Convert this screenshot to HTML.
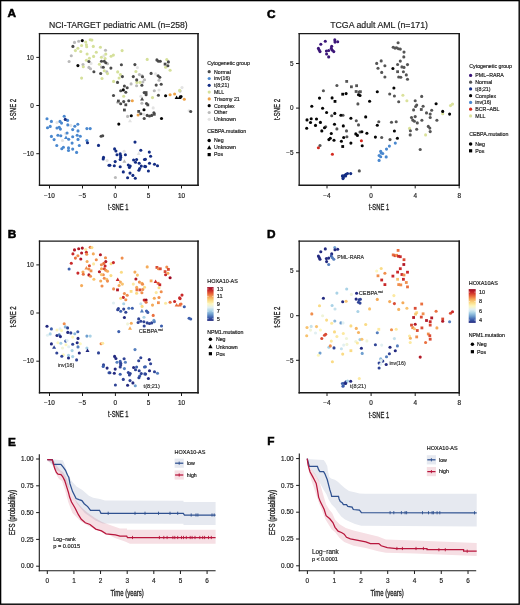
<!DOCTYPE html>
<html><head><meta charset="utf-8"><style>
html,body{margin:0;padding:0;background:#fff;}
body{width:520px;height:605px;overflow:hidden;}
svg{display:block;font-family:"Liberation Sans", sans-serif;}
</style></head><body>
<svg width="520" height="605" viewBox="0 0 520 605">
<rect x="0" y="0" width="520" height="605" fill="#fff"/>
<text x="7.6" y="17.00" font-size="11.8" text-anchor="start" font-weight="bold" fill="#000" stroke="#000" stroke-width="0.55">A</text>
<text x="267" y="17.80" font-size="11.8" text-anchor="start" font-weight="bold" fill="#000" stroke="#000" stroke-width="0.55">C</text>
<text x="7.8" y="238.00" font-size="11.8" text-anchor="start" font-weight="bold" fill="#000" stroke="#000" stroke-width="0.55">B</text>
<text x="267" y="237.70" font-size="11.8" text-anchor="start" font-weight="bold" fill="#000" stroke="#000" stroke-width="0.55">D</text>
<text x="8.1" y="445.80" font-size="11.8" text-anchor="start" font-weight="bold" fill="#000" stroke="#000" stroke-width="0.55">E</text>
<text x="267.2" y="445.20" font-size="11.8" text-anchor="start" font-weight="bold" fill="#000" stroke="#000" stroke-width="0.55">F</text>
<line x1="39.5" y1="32.95" x2="39.5" y2="185.95000000000002" stroke="#1a1a1a" stroke-width="1.3"/>
<line x1="38.85" y1="33.6" x2="198.8" y2="33.6" stroke="#1a1a1a" stroke-width="1.3"/>
<line x1="198" y1="32.95" x2="198" y2="186.0" stroke="#1a1a1a" stroke-width="1.6"/>
<line x1="38.85" y1="185.3" x2="198.8" y2="185.3" stroke="#1a1a1a" stroke-width="1.4"/>
<line x1="36.3" y1="57.4" x2="39.5" y2="57.4" stroke="#1a1a1a" stroke-width="1.0"/>
<text x="33.9" y="59.67" font-size="6.4" text-anchor="end" font-weight="normal" fill="#1e1e1e" stroke="#1e1e1e" stroke-width="0.18">10</text>
<line x1="36.3" y1="105.5" x2="39.5" y2="105.5" stroke="#1a1a1a" stroke-width="1.0"/>
<text x="33.9" y="107.77" font-size="6.4" text-anchor="end" font-weight="normal" fill="#1e1e1e" stroke="#1e1e1e" stroke-width="0.18">0</text>
<line x1="36.3" y1="153.7" x2="39.5" y2="153.7" stroke="#1a1a1a" stroke-width="1.0"/>
<text x="33.9" y="155.97" font-size="6.4" text-anchor="end" font-weight="normal" fill="#1e1e1e" stroke="#1e1e1e" stroke-width="0.18">−10</text>
<line x1="49.5" y1="185.3" x2="49.5" y2="188.5" stroke="#1a1a1a" stroke-width="1.0"/>
<text x="49.5" y="197.77" font-size="6.4" text-anchor="middle" font-weight="normal" fill="#1e1e1e" stroke="#1e1e1e" stroke-width="0.18">−10</text>
<line x1="82.5" y1="185.3" x2="82.5" y2="188.5" stroke="#1a1a1a" stroke-width="1.0"/>
<text x="82.5" y="197.77" font-size="6.4" text-anchor="middle" font-weight="normal" fill="#1e1e1e" stroke="#1e1e1e" stroke-width="0.18">−5</text>
<line x1="115.4" y1="185.3" x2="115.4" y2="188.5" stroke="#1a1a1a" stroke-width="1.0"/>
<text x="115.4" y="197.77" font-size="6.4" text-anchor="middle" font-weight="normal" fill="#1e1e1e" stroke="#1e1e1e" stroke-width="0.18">0</text>
<line x1="148.5" y1="185.3" x2="148.5" y2="188.5" stroke="#1a1a1a" stroke-width="1.0"/>
<text x="148.5" y="197.77" font-size="6.4" text-anchor="middle" font-weight="normal" fill="#1e1e1e" stroke="#1e1e1e" stroke-width="0.18">5</text>
<line x1="181.5" y1="185.3" x2="181.5" y2="188.5" stroke="#1a1a1a" stroke-width="1.0"/>
<text x="181.5" y="197.77" font-size="6.4" text-anchor="middle" font-weight="normal" fill="#1e1e1e" stroke="#1e1e1e" stroke-width="0.18">10</text>
<text x="118.3" y="209.90" font-size="8.3" text-anchor="middle" font-weight="normal" fill="#1e1e1e" textLength="20.4" lengthAdjust="spacingAndGlyphs" stroke="#1e1e1e" stroke-width="0.3">t-SNE 1</text>
<text transform="translate(16.1,109.3) rotate(-90)" x="0" y="0" font-size="8.3" text-anchor="middle" font-weight="normal" fill="#1e1e1e" textLength="21" lengthAdjust="spacingAndGlyphs" stroke="#1e1e1e" stroke-width="0.3">t-SNE 2</text>
<line x1="39.5" y1="240.45" x2="39.5" y2="393.45" stroke="#1a1a1a" stroke-width="1.3"/>
<line x1="38.85" y1="241.1" x2="198.8" y2="241.1" stroke="#1a1a1a" stroke-width="1.3"/>
<line x1="198" y1="240.45" x2="198" y2="393.5" stroke="#1a1a1a" stroke-width="1.6"/>
<line x1="38.85" y1="392.8" x2="198.8" y2="392.8" stroke="#1a1a1a" stroke-width="1.4"/>
<line x1="36.3" y1="264.9" x2="39.5" y2="264.9" stroke="#1a1a1a" stroke-width="1.0"/>
<text x="33.9" y="267.17" font-size="6.4" text-anchor="end" font-weight="normal" fill="#1e1e1e" stroke="#1e1e1e" stroke-width="0.18">10</text>
<line x1="36.3" y1="313.0" x2="39.5" y2="313.0" stroke="#1a1a1a" stroke-width="1.0"/>
<text x="33.9" y="315.27" font-size="6.4" text-anchor="end" font-weight="normal" fill="#1e1e1e" stroke="#1e1e1e" stroke-width="0.18">0</text>
<line x1="36.3" y1="361.2" x2="39.5" y2="361.2" stroke="#1a1a1a" stroke-width="1.0"/>
<text x="33.9" y="363.47" font-size="6.4" text-anchor="end" font-weight="normal" fill="#1e1e1e" stroke="#1e1e1e" stroke-width="0.18">−10</text>
<line x1="49.5" y1="392.8" x2="49.5" y2="396.0" stroke="#1a1a1a" stroke-width="1.0"/>
<text x="49.5" y="405.27" font-size="6.4" text-anchor="middle" font-weight="normal" fill="#1e1e1e" stroke="#1e1e1e" stroke-width="0.18">−10</text>
<line x1="82.5" y1="392.8" x2="82.5" y2="396.0" stroke="#1a1a1a" stroke-width="1.0"/>
<text x="82.5" y="405.27" font-size="6.4" text-anchor="middle" font-weight="normal" fill="#1e1e1e" stroke="#1e1e1e" stroke-width="0.18">−5</text>
<line x1="115.4" y1="392.8" x2="115.4" y2="396.0" stroke="#1a1a1a" stroke-width="1.0"/>
<text x="115.4" y="405.27" font-size="6.4" text-anchor="middle" font-weight="normal" fill="#1e1e1e" stroke="#1e1e1e" stroke-width="0.18">0</text>
<line x1="148.5" y1="392.8" x2="148.5" y2="396.0" stroke="#1a1a1a" stroke-width="1.0"/>
<text x="148.5" y="405.27" font-size="6.4" text-anchor="middle" font-weight="normal" fill="#1e1e1e" stroke="#1e1e1e" stroke-width="0.18">5</text>
<line x1="181.5" y1="392.8" x2="181.5" y2="396.0" stroke="#1a1a1a" stroke-width="1.0"/>
<text x="181.5" y="405.27" font-size="6.4" text-anchor="middle" font-weight="normal" fill="#1e1e1e" stroke="#1e1e1e" stroke-width="0.18">10</text>
<text x="118.3" y="417.40" font-size="8.3" text-anchor="middle" font-weight="normal" fill="#1e1e1e" textLength="20.4" lengthAdjust="spacingAndGlyphs" stroke="#1e1e1e" stroke-width="0.3">t-SNE 1</text>
<text transform="translate(16.1,316.8) rotate(-90)" x="0" y="0" font-size="8.3" text-anchor="middle" font-weight="normal" fill="#1e1e1e" textLength="21" lengthAdjust="spacingAndGlyphs" stroke="#1e1e1e" stroke-width="0.3">t-SNE 2</text>
<line x1="299.2" y1="32.95" x2="299.2" y2="185.85" stroke="#1a1a1a" stroke-width="1.3"/>
<line x1="298.55" y1="33.6" x2="460.0" y2="33.6" stroke="#1a1a1a" stroke-width="1.3"/>
<line x1="459.2" y1="32.95" x2="459.2" y2="185.89999999999998" stroke="#1a1a1a" stroke-width="1.6"/>
<line x1="298.55" y1="185.2" x2="460.0" y2="185.2" stroke="#1a1a1a" stroke-width="1.4"/>
<line x1="296.0" y1="63.5" x2="299.2" y2="63.5" stroke="#1a1a1a" stroke-width="1.0"/>
<text x="293.59999999999997" y="65.77" font-size="6.4" text-anchor="end" font-weight="normal" fill="#1e1e1e" stroke="#1e1e1e" stroke-width="0.18">5</text>
<line x1="296.0" y1="108.1" x2="299.2" y2="108.1" stroke="#1a1a1a" stroke-width="1.0"/>
<text x="293.59999999999997" y="110.37" font-size="6.4" text-anchor="end" font-weight="normal" fill="#1e1e1e" stroke="#1e1e1e" stroke-width="0.18">0</text>
<line x1="296.0" y1="152.7" x2="299.2" y2="152.7" stroke="#1a1a1a" stroke-width="1.0"/>
<text x="293.59999999999997" y="154.97" font-size="6.4" text-anchor="end" font-weight="normal" fill="#1e1e1e" stroke="#1e1e1e" stroke-width="0.18">−5</text>
<line x1="327" y1="185.2" x2="327" y2="188.39999999999998" stroke="#1a1a1a" stroke-width="1.0"/>
<text x="327" y="197.67" font-size="6.4" text-anchor="middle" font-weight="normal" fill="#1e1e1e" stroke="#1e1e1e" stroke-width="0.18">−4</text>
<line x1="371.1" y1="185.2" x2="371.1" y2="188.39999999999998" stroke="#1a1a1a" stroke-width="1.0"/>
<text x="371.1" y="197.67" font-size="6.4" text-anchor="middle" font-weight="normal" fill="#1e1e1e" stroke="#1e1e1e" stroke-width="0.18">0</text>
<line x1="415.2" y1="185.2" x2="415.2" y2="188.39999999999998" stroke="#1a1a1a" stroke-width="1.0"/>
<text x="415.2" y="197.67" font-size="6.4" text-anchor="middle" font-weight="normal" fill="#1e1e1e" stroke="#1e1e1e" stroke-width="0.18">4</text>
<line x1="459.2" y1="185.2" x2="459.2" y2="188.39999999999998" stroke="#1a1a1a" stroke-width="1.0"/>
<text x="459.2" y="197.67" font-size="6.4" text-anchor="middle" font-weight="normal" fill="#1e1e1e" stroke="#1e1e1e" stroke-width="0.18">8</text>
<text x="379" y="209.90" font-size="8.3" text-anchor="middle" font-weight="normal" fill="#1e1e1e" textLength="20.4" lengthAdjust="spacingAndGlyphs" stroke="#1e1e1e" stroke-width="0.3">t-SNE 1</text>
<text transform="translate(279.5,109.5) rotate(-90)" x="0" y="0" font-size="8.3" text-anchor="middle" font-weight="normal" fill="#1e1e1e" textLength="21" lengthAdjust="spacingAndGlyphs" stroke="#1e1e1e" stroke-width="0.3">t-SNE 2</text>
<line x1="299.2" y1="240.54999999999998" x2="299.2" y2="393.44999999999993" stroke="#1a1a1a" stroke-width="1.3"/>
<line x1="298.55" y1="241.2" x2="460.0" y2="241.2" stroke="#1a1a1a" stroke-width="1.3"/>
<line x1="459.2" y1="240.54999999999998" x2="459.2" y2="393.49999999999994" stroke="#1a1a1a" stroke-width="1.6"/>
<line x1="298.55" y1="392.79999999999995" x2="460.0" y2="392.79999999999995" stroke="#1a1a1a" stroke-width="1.4"/>
<line x1="296.0" y1="271.1" x2="299.2" y2="271.1" stroke="#1a1a1a" stroke-width="1.0"/>
<text x="293.59999999999997" y="273.37" font-size="6.4" text-anchor="end" font-weight="normal" fill="#1e1e1e" stroke="#1e1e1e" stroke-width="0.18">5</text>
<line x1="296.0" y1="315.7" x2="299.2" y2="315.7" stroke="#1a1a1a" stroke-width="1.0"/>
<text x="293.59999999999997" y="317.97" font-size="6.4" text-anchor="end" font-weight="normal" fill="#1e1e1e" stroke="#1e1e1e" stroke-width="0.18">0</text>
<line x1="296.0" y1="360.29999999999995" x2="299.2" y2="360.29999999999995" stroke="#1a1a1a" stroke-width="1.0"/>
<text x="293.59999999999997" y="362.57" font-size="6.4" text-anchor="end" font-weight="normal" fill="#1e1e1e" stroke="#1e1e1e" stroke-width="0.18">−5</text>
<line x1="327" y1="392.79999999999995" x2="327" y2="395.99999999999994" stroke="#1a1a1a" stroke-width="1.0"/>
<text x="327" y="405.27" font-size="6.4" text-anchor="middle" font-weight="normal" fill="#1e1e1e" stroke="#1e1e1e" stroke-width="0.18">−4</text>
<line x1="371.1" y1="392.79999999999995" x2="371.1" y2="395.99999999999994" stroke="#1a1a1a" stroke-width="1.0"/>
<text x="371.1" y="405.27" font-size="6.4" text-anchor="middle" font-weight="normal" fill="#1e1e1e" stroke="#1e1e1e" stroke-width="0.18">0</text>
<line x1="415.2" y1="392.79999999999995" x2="415.2" y2="395.99999999999994" stroke="#1a1a1a" stroke-width="1.0"/>
<text x="415.2" y="405.27" font-size="6.4" text-anchor="middle" font-weight="normal" fill="#1e1e1e" stroke="#1e1e1e" stroke-width="0.18">4</text>
<line x1="459.2" y1="392.79999999999995" x2="459.2" y2="395.99999999999994" stroke="#1a1a1a" stroke-width="1.0"/>
<text x="459.2" y="405.27" font-size="6.4" text-anchor="middle" font-weight="normal" fill="#1e1e1e" stroke="#1e1e1e" stroke-width="0.18">8</text>
<text x="379" y="417.50" font-size="8.3" text-anchor="middle" font-weight="normal" fill="#1e1e1e" textLength="20.4" lengthAdjust="spacingAndGlyphs" stroke="#1e1e1e" stroke-width="0.3">t-SNE 1</text>
<text transform="translate(279.5,317.1) rotate(-90)" x="0" y="0" font-size="8.3" text-anchor="middle" font-weight="normal" fill="#1e1e1e" textLength="21" lengthAdjust="spacingAndGlyphs" stroke="#1e1e1e" stroke-width="0.3">t-SNE 2</text>
<text x="48.9" y="27.60" font-size="8.5" text-anchor="start" font-weight="normal" fill="#1e1e1e" textLength="138.8" lengthAdjust="spacingAndGlyphs" stroke="#1e1e1e" stroke-width="0.18">NCI-TARGET pediatric AML (n=258)</text>
<text x="330.2" y="27.70" font-size="8.5" text-anchor="start" font-weight="normal" fill="#1e1e1e" textLength="97.8" lengthAdjust="spacingAndGlyphs" stroke="#1e1e1e" stroke-width="0.18">TCGA adult AML (n=171)</text>
<text x="207.2" y="64.76" font-size="5.25" text-anchor="start" font-weight="normal" fill="#1e1e1e" stroke="#1e1e1e" stroke-width="0.18">Cytogenetic group</text>
<circle cx="209.2" cy="71.7" r="1.6" fill="#4a4a4a"/>
<text x="214.0" y="73.56" font-size="5.25" text-anchor="start" font-weight="normal" fill="#1e1e1e" stroke="#1e1e1e" stroke-width="0.18">Normal</text>
<circle cx="209.2" cy="78.5" r="1.6" fill="#4a88cf"/>
<text x="214.0" y="80.36" font-size="5.25" text-anchor="start" font-weight="normal" fill="#1e1e1e" stroke="#1e1e1e" stroke-width="0.18">inv(16)</text>
<circle cx="209.2" cy="85.3" r="1.6" fill="#142d84"/>
<text x="214.0" y="87.16" font-size="5.25" text-anchor="start" font-weight="normal" fill="#1e1e1e" stroke="#1e1e1e" stroke-width="0.18">t(8;21)</text>
<circle cx="209.2" cy="92.1" r="1.6" fill="#d5e09a"/>
<text x="214.0" y="93.96" font-size="5.25" text-anchor="start" font-weight="normal" fill="#1e1e1e" stroke="#1e1e1e" stroke-width="0.18">MLL</text>
<circle cx="209.2" cy="98.9" r="1.6" fill="#eda247"/>
<text x="214.0" y="100.76" font-size="5.25" text-anchor="start" font-weight="normal" fill="#1e1e1e" stroke="#1e1e1e" stroke-width="0.18">Trisomy 21</text>
<circle cx="209.2" cy="105.7" r="1.6" fill="#050505"/>
<text x="214.0" y="107.56" font-size="5.25" text-anchor="start" font-weight="normal" fill="#1e1e1e" stroke="#1e1e1e" stroke-width="0.18">Complex</text>
<circle cx="209.2" cy="112.5" r="1.6" fill="#b9b9b9"/>
<text x="214.0" y="114.36" font-size="5.25" text-anchor="start" font-weight="normal" fill="#1e1e1e" stroke="#1e1e1e" stroke-width="0.18">Other</text>
<circle cx="209.2" cy="119.3" r="1.6" fill="#e3e3e3"/>
<text x="214.0" y="121.16" font-size="5.25" text-anchor="start" font-weight="normal" fill="#1e1e1e" stroke="#1e1e1e" stroke-width="0.18">Unknown</text>
<text x="207.2" y="133.26" font-size="5.25" text-anchor="start" font-weight="normal" fill="#1e1e1e" stroke="#1e1e1e" stroke-width="0.18">CEBPA.mutation</text>
<circle cx="209.2" cy="140.6" r="1.75" fill="#000"/>
<text x="214.0" y="142.46" font-size="5.25" text-anchor="start" font-weight="normal" fill="#1e1e1e" stroke="#1e1e1e" stroke-width="0.18">Neg</text>
<polygon points="209.2,145.2 207.0,149.2 211.4,149.2" fill="#000"/>
<text x="214.0" y="149.46" font-size="5.25" text-anchor="start" font-weight="normal" fill="#1e1e1e" stroke="#1e1e1e" stroke-width="0.18">Unknown</text>
<rect x="207.6" y="153.0" width="3.2" height="3.2" fill="#000"/>
<text x="214.0" y="156.46" font-size="5.25" text-anchor="start" font-weight="normal" fill="#1e1e1e" stroke="#1e1e1e" stroke-width="0.18">Pos</text>
<text x="469.3" y="68.16" font-size="5.25" text-anchor="start" font-weight="normal" fill="#1e1e1e" stroke="#1e1e1e" stroke-width="0.18">Cytogenetic group</text>
<circle cx="470.6" cy="75.4" r="1.6" fill="#3b1578"/>
<text x="475.3" y="77.26" font-size="5.25" text-anchor="start" font-weight="normal" fill="#1e1e1e" stroke="#1e1e1e" stroke-width="0.18">PML−RARA</text>
<circle cx="470.6" cy="82.2" r="1.6" fill="#555555"/>
<text x="475.3" y="84.01" font-size="5.25" text-anchor="start" font-weight="normal" fill="#1e1e1e" stroke="#1e1e1e" stroke-width="0.18">Normal</text>
<circle cx="470.6" cy="88.9" r="1.6" fill="#142d84"/>
<text x="475.3" y="90.76" font-size="5.25" text-anchor="start" font-weight="normal" fill="#1e1e1e" stroke="#1e1e1e" stroke-width="0.18">t(8;21)</text>
<circle cx="470.6" cy="95.7" r="1.6" fill="#050505"/>
<text x="475.3" y="97.51" font-size="5.25" text-anchor="start" font-weight="normal" fill="#1e1e1e" stroke="#1e1e1e" stroke-width="0.18">Complex</text>
<circle cx="470.6" cy="102.4" r="1.6" fill="#4a88cf"/>
<text x="475.3" y="104.26" font-size="5.25" text-anchor="start" font-weight="normal" fill="#1e1e1e" stroke="#1e1e1e" stroke-width="0.18">inv(16)</text>
<circle cx="470.6" cy="109.2" r="1.6" fill="#d42a20"/>
<text x="475.3" y="111.01" font-size="5.25" text-anchor="start" font-weight="normal" fill="#1e1e1e" stroke="#1e1e1e" stroke-width="0.18">BCR−ABL</text>
<circle cx="470.6" cy="115.9" r="1.6" fill="#dbe29c"/>
<text x="475.3" y="117.76" font-size="5.25" text-anchor="start" font-weight="normal" fill="#1e1e1e" stroke="#1e1e1e" stroke-width="0.18">MLL</text>
<text x="469.3" y="136.46" font-size="5.25" text-anchor="start" font-weight="normal" fill="#1e1e1e" stroke="#1e1e1e" stroke-width="0.18">CEBPA.mutation</text>
<circle cx="470.6" cy="144.1" r="1.75" fill="#000"/>
<text x="475.3" y="145.96" font-size="5.25" text-anchor="start" font-weight="normal" fill="#1e1e1e" stroke="#1e1e1e" stroke-width="0.18">Neg</text>
<rect x="469.0" y="149.2" width="3.2" height="3.2" fill="#000"/>
<text x="475.3" y="152.66" font-size="5.25" text-anchor="start" font-weight="normal" fill="#1e1e1e" stroke="#1e1e1e" stroke-width="0.18">Pos</text>
<text x="207.2" y="282.56" font-size="5.25" text-anchor="start" font-weight="normal" fill="#1e1e1e" textLength="30.7" lengthAdjust="spacingAndGlyphs" stroke="#1e1e1e" stroke-width="0.18">HOXA10-AS</text>
<defs><linearGradient id="gB" x1="0" y1="0" x2="0" y2="1"><stop offset="0.000" stop-color="#9c0a24"/><stop offset="0.100" stop-color="#c9292a"/><stop offset="0.200" stop-color="#e8663a"/><stop offset="0.300" stop-color="#f5ab5a"/><stop offset="0.400" stop-color="#fadb85"/><stop offset="0.500" stop-color="#fdf7bd"/><stop offset="0.600" stop-color="#e2f0f2"/><stop offset="0.700" stop-color="#a9d2e6"/><stop offset="0.800" stop-color="#6f9fcf"/><stop offset="0.900" stop-color="#3d5fad"/><stop offset="1.000" stop-color="#232a80"/></linearGradient></defs>
<rect x="207.2" y="287.1" width="6.4" height="33.8" fill="url(#gB)"/>
<line x1="207.2" y1="288.9" x2="208.6" y2="288.9" stroke="#fff" stroke-width="0.5"/>
<line x1="212.2" y1="288.9" x2="213.6" y2="288.9" stroke="#fff" stroke-width="0.5"/>
<text x="216.8" y="290.87" font-size="5.55" text-anchor="start" font-weight="normal" fill="#1e1e1e" stroke="#1e1e1e" stroke-width="0.18">13</text>
<line x1="207.2" y1="296.4" x2="208.6" y2="296.4" stroke="#fff" stroke-width="0.5"/>
<line x1="212.2" y1="296.4" x2="213.6" y2="296.4" stroke="#fff" stroke-width="0.5"/>
<text x="216.8" y="298.37" font-size="5.55" text-anchor="start" font-weight="normal" fill="#1e1e1e" stroke="#1e1e1e" stroke-width="0.18">11</text>
<line x1="207.2" y1="303.8" x2="208.6" y2="303.8" stroke="#fff" stroke-width="0.5"/>
<line x1="212.2" y1="303.8" x2="213.6" y2="303.8" stroke="#fff" stroke-width="0.5"/>
<text x="216.8" y="305.77" font-size="5.55" text-anchor="start" font-weight="normal" fill="#1e1e1e" stroke="#1e1e1e" stroke-width="0.18">9</text>
<line x1="207.2" y1="311.2" x2="208.6" y2="311.2" stroke="#fff" stroke-width="0.5"/>
<line x1="212.2" y1="311.2" x2="213.6" y2="311.2" stroke="#fff" stroke-width="0.5"/>
<text x="216.8" y="313.17" font-size="5.55" text-anchor="start" font-weight="normal" fill="#1e1e1e" stroke="#1e1e1e" stroke-width="0.18">7</text>
<line x1="207.2" y1="318.7" x2="208.6" y2="318.7" stroke="#fff" stroke-width="0.5"/>
<line x1="212.2" y1="318.7" x2="213.6" y2="318.7" stroke="#fff" stroke-width="0.5"/>
<text x="216.8" y="320.67" font-size="5.55" text-anchor="start" font-weight="normal" fill="#1e1e1e" stroke="#1e1e1e" stroke-width="0.18">5</text>
<text x="207.2" y="333.66" font-size="5.25" text-anchor="start" font-weight="normal" fill="#1e1e1e" stroke="#1e1e1e" stroke-width="0.18">NPM1.mutation</text>
<circle cx="210.4" cy="339.2" r="1.75" fill="#000"/>
<text x="215.9" y="341.06" font-size="5.25" text-anchor="start" font-weight="normal" fill="#1e1e1e" stroke="#1e1e1e" stroke-width="0.18">Neg</text>
<polygon points="210.4,344.3 208.2,348.3 212.6,348.3" fill="#000"/>
<text x="215.9" y="348.56" font-size="5.25" text-anchor="start" font-weight="normal" fill="#1e1e1e" stroke="#1e1e1e" stroke-width="0.18">Unknown</text>
<rect x="208.8" y="352.1" width="3.2" height="3.2" fill="#000"/>
<text x="215.9" y="355.56" font-size="5.25" text-anchor="start" font-weight="normal" fill="#1e1e1e" stroke="#1e1e1e" stroke-width="0.18">Pos</text>
<text x="468.7" y="285.06" font-size="5.25" text-anchor="start" font-weight="normal" fill="#1e1e1e" textLength="29.2" lengthAdjust="spacingAndGlyphs" stroke="#1e1e1e" stroke-width="0.18">HOXA10AS</text>
<defs><linearGradient id="gD" x1="0" y1="0" x2="0" y2="1"><stop offset="0.000" stop-color="#9c0a24"/><stop offset="0.100" stop-color="#c9292a"/><stop offset="0.200" stop-color="#e8663a"/><stop offset="0.300" stop-color="#f5ab5a"/><stop offset="0.400" stop-color="#fadb85"/><stop offset="0.500" stop-color="#fdf7bd"/><stop offset="0.600" stop-color="#e2f0f2"/><stop offset="0.700" stop-color="#a9d2e6"/><stop offset="0.800" stop-color="#6f9fcf"/><stop offset="0.900" stop-color="#3d5fad"/><stop offset="1.000" stop-color="#232a80"/></linearGradient></defs>
<rect x="468.7" y="289.1" width="7.0" height="33.8" fill="url(#gD)"/>
<line x1="468.7" y1="292.1" x2="470.1" y2="292.1" stroke="#fff" stroke-width="0.5"/>
<line x1="474.3" y1="292.1" x2="475.7" y2="292.1" stroke="#fff" stroke-width="0.5"/>
<text x="479.0" y="294.07" font-size="5.55" text-anchor="start" font-weight="normal" fill="#1e1e1e" stroke="#1e1e1e" stroke-width="0.18">10</text>
<line x1="468.7" y1="301.5" x2="470.1" y2="301.5" stroke="#fff" stroke-width="0.5"/>
<line x1="474.3" y1="301.5" x2="475.7" y2="301.5" stroke="#fff" stroke-width="0.5"/>
<text x="479.0" y="303.47" font-size="5.55" text-anchor="start" font-weight="normal" fill="#1e1e1e" stroke="#1e1e1e" stroke-width="0.18">8</text>
<line x1="468.7" y1="311.0" x2="470.1" y2="311.0" stroke="#fff" stroke-width="0.5"/>
<line x1="474.3" y1="311.0" x2="475.7" y2="311.0" stroke="#fff" stroke-width="0.5"/>
<text x="479.0" y="312.97" font-size="5.55" text-anchor="start" font-weight="normal" fill="#1e1e1e" stroke="#1e1e1e" stroke-width="0.18">6</text>
<line x1="468.7" y1="320.1" x2="470.1" y2="320.1" stroke="#fff" stroke-width="0.5"/>
<line x1="474.3" y1="320.1" x2="475.7" y2="320.1" stroke="#fff" stroke-width="0.5"/>
<text x="479.0" y="322.07" font-size="5.55" text-anchor="start" font-weight="normal" fill="#1e1e1e" stroke="#1e1e1e" stroke-width="0.18">4</text>
<text x="468.7" y="337.16" font-size="5.25" text-anchor="start" font-weight="normal" fill="#1e1e1e" stroke="#1e1e1e" stroke-width="0.18">NPM1.mutation</text>
<circle cx="472.4" cy="344.2" r="1.75" fill="#000"/>
<text x="477" y="346.06" font-size="5.25" text-anchor="start" font-weight="normal" fill="#1e1e1e" stroke="#1e1e1e" stroke-width="0.18">Neg</text>
<rect x="470.8" y="350.1" width="3.2" height="3.2" fill="#000"/>
<text x="477" y="353.56" font-size="5.25" text-anchor="start" font-weight="normal" fill="#1e1e1e" stroke="#1e1e1e" stroke-width="0.18">Pos</text>
<line x1="39.3" y1="454.2" x2="39.3" y2="571.2" stroke="#1a1a1a" stroke-width="1.1"/>
<line x1="38.8" y1="570.8" x2="215.6" y2="570.8" stroke="#1a1a1a" stroke-width="1.1"/>
<line x1="36.099999999999994" y1="459.0" x2="39.3" y2="459.0" stroke="#1a1a1a" stroke-width="1.0"/>
<text x="33.5" y="461.27" font-size="6.4" text-anchor="end" font-weight="normal" fill="#1e1e1e" stroke="#1e1e1e" stroke-width="0.18">1.00</text>
<line x1="36.099999999999994" y1="485.8" x2="39.3" y2="485.8" stroke="#1a1a1a" stroke-width="1.0"/>
<text x="33.5" y="488.07" font-size="6.4" text-anchor="end" font-weight="normal" fill="#1e1e1e" stroke="#1e1e1e" stroke-width="0.18">0.75</text>
<line x1="36.099999999999994" y1="512.6" x2="39.3" y2="512.6" stroke="#1a1a1a" stroke-width="1.0"/>
<text x="33.5" y="514.87" font-size="6.4" text-anchor="end" font-weight="normal" fill="#1e1e1e" stroke="#1e1e1e" stroke-width="0.18">0.50</text>
<line x1="36.099999999999994" y1="539.4" x2="39.3" y2="539.4" stroke="#1a1a1a" stroke-width="1.0"/>
<text x="33.5" y="541.67" font-size="6.4" text-anchor="end" font-weight="normal" fill="#1e1e1e" stroke="#1e1e1e" stroke-width="0.18">0.25</text>
<line x1="36.099999999999994" y1="566.2" x2="39.3" y2="566.2" stroke="#1a1a1a" stroke-width="1.0"/>
<text x="33.5" y="568.47" font-size="6.4" text-anchor="end" font-weight="normal" fill="#1e1e1e" stroke="#1e1e1e" stroke-width="0.18">0.00</text>
<line x1="47.3" y1="570.8" x2="47.3" y2="574" stroke="#1a1a1a" stroke-width="1.0"/>
<text x="47.3" y="583.47" font-size="6.4" text-anchor="middle" font-weight="normal" fill="#1e1e1e" stroke="#1e1e1e" stroke-width="0.18">0</text>
<line x1="73.92999999999999" y1="570.8" x2="73.92999999999999" y2="574" stroke="#1a1a1a" stroke-width="1.0"/>
<text x="73.92999999999999" y="583.47" font-size="6.4" text-anchor="middle" font-weight="normal" fill="#1e1e1e" stroke="#1e1e1e" stroke-width="0.18">1</text>
<line x1="100.56" y1="570.8" x2="100.56" y2="574" stroke="#1a1a1a" stroke-width="1.0"/>
<text x="100.56" y="583.47" font-size="6.4" text-anchor="middle" font-weight="normal" fill="#1e1e1e" stroke="#1e1e1e" stroke-width="0.18">2</text>
<line x1="127.19" y1="570.8" x2="127.19" y2="574" stroke="#1a1a1a" stroke-width="1.0"/>
<text x="127.19" y="583.47" font-size="6.4" text-anchor="middle" font-weight="normal" fill="#1e1e1e" stroke="#1e1e1e" stroke-width="0.18">3</text>
<line x1="153.82" y1="570.8" x2="153.82" y2="574" stroke="#1a1a1a" stroke-width="1.0"/>
<text x="153.82" y="583.47" font-size="6.4" text-anchor="middle" font-weight="normal" fill="#1e1e1e" stroke="#1e1e1e" stroke-width="0.18">4</text>
<line x1="180.45" y1="570.8" x2="180.45" y2="574" stroke="#1a1a1a" stroke-width="1.0"/>
<text x="180.45" y="583.47" font-size="6.4" text-anchor="middle" font-weight="normal" fill="#1e1e1e" stroke="#1e1e1e" stroke-width="0.18">5</text>
<line x1="207.07999999999998" y1="570.8" x2="207.07999999999998" y2="574" stroke="#1a1a1a" stroke-width="1.0"/>
<text x="207.07999999999998" y="583.47" font-size="6.4" text-anchor="middle" font-weight="normal" fill="#1e1e1e" stroke="#1e1e1e" stroke-width="0.18">6</text>
<text x="127.1" y="595.70" font-size="8.3" text-anchor="middle" font-weight="normal" fill="#1e1e1e" textLength="33.4" lengthAdjust="spacingAndGlyphs" stroke="#1e1e1e" stroke-width="0.3">Time (years)</text>
<text transform="translate(14.6,512.6) rotate(-90)" x="0" y="0" font-size="8.3" text-anchor="middle" font-weight="normal" fill="#1e1e1e" textLength="45.5" lengthAdjust="spacingAndGlyphs" stroke="#1e1e1e" stroke-width="0.3">EFS (probability)</text>
<line x1="299.3" y1="453.4" x2="299.3" y2="571.2" stroke="#1a1a1a" stroke-width="1.1"/>
<line x1="298.8" y1="570.8" x2="476.2" y2="570.8" stroke="#1a1a1a" stroke-width="1.1"/>
<line x1="296.1" y1="458.6" x2="299.3" y2="458.6" stroke="#1a1a1a" stroke-width="1.0"/>
<text x="293.5" y="460.87" font-size="6.4" text-anchor="end" font-weight="normal" fill="#1e1e1e" stroke="#1e1e1e" stroke-width="0.18">1.00</text>
<line x1="296.1" y1="485.40000000000003" x2="299.3" y2="485.40000000000003" stroke="#1a1a1a" stroke-width="1.0"/>
<text x="293.5" y="487.67" font-size="6.4" text-anchor="end" font-weight="normal" fill="#1e1e1e" stroke="#1e1e1e" stroke-width="0.18">0.75</text>
<line x1="296.1" y1="512.2" x2="299.3" y2="512.2" stroke="#1a1a1a" stroke-width="1.0"/>
<text x="293.5" y="514.47" font-size="6.4" text-anchor="end" font-weight="normal" fill="#1e1e1e" stroke="#1e1e1e" stroke-width="0.18">0.50</text>
<line x1="296.1" y1="539.0" x2="299.3" y2="539.0" stroke="#1a1a1a" stroke-width="1.0"/>
<text x="293.5" y="541.27" font-size="6.4" text-anchor="end" font-weight="normal" fill="#1e1e1e" stroke="#1e1e1e" stroke-width="0.18">0.25</text>
<line x1="296.1" y1="565.8000000000001" x2="299.3" y2="565.8000000000001" stroke="#1a1a1a" stroke-width="1.0"/>
<text x="293.5" y="568.07" font-size="6.4" text-anchor="end" font-weight="normal" fill="#1e1e1e" stroke="#1e1e1e" stroke-width="0.18">0.00</text>
<line x1="307.4" y1="570.8" x2="307.4" y2="574" stroke="#1a1a1a" stroke-width="1.0"/>
<text x="307.4" y="583.47" font-size="6.4" text-anchor="middle" font-weight="normal" fill="#1e1e1e" stroke="#1e1e1e" stroke-width="0.18">0</text>
<line x1="334.16999999999996" y1="570.8" x2="334.16999999999996" y2="574" stroke="#1a1a1a" stroke-width="1.0"/>
<text x="334.16999999999996" y="583.47" font-size="6.4" text-anchor="middle" font-weight="normal" fill="#1e1e1e" stroke="#1e1e1e" stroke-width="0.18">1</text>
<line x1="360.94" y1="570.8" x2="360.94" y2="574" stroke="#1a1a1a" stroke-width="1.0"/>
<text x="360.94" y="583.47" font-size="6.4" text-anchor="middle" font-weight="normal" fill="#1e1e1e" stroke="#1e1e1e" stroke-width="0.18">2</text>
<line x1="387.71" y1="570.8" x2="387.71" y2="574" stroke="#1a1a1a" stroke-width="1.0"/>
<text x="387.71" y="583.47" font-size="6.4" text-anchor="middle" font-weight="normal" fill="#1e1e1e" stroke="#1e1e1e" stroke-width="0.18">3</text>
<line x1="414.47999999999996" y1="570.8" x2="414.47999999999996" y2="574" stroke="#1a1a1a" stroke-width="1.0"/>
<text x="414.47999999999996" y="583.47" font-size="6.4" text-anchor="middle" font-weight="normal" fill="#1e1e1e" stroke="#1e1e1e" stroke-width="0.18">4</text>
<line x1="441.25" y1="570.8" x2="441.25" y2="574" stroke="#1a1a1a" stroke-width="1.0"/>
<text x="441.25" y="583.47" font-size="6.4" text-anchor="middle" font-weight="normal" fill="#1e1e1e" stroke="#1e1e1e" stroke-width="0.18">5</text>
<line x1="468.02" y1="570.8" x2="468.02" y2="574" stroke="#1a1a1a" stroke-width="1.0"/>
<text x="468.02" y="583.47" font-size="6.4" text-anchor="middle" font-weight="normal" fill="#1e1e1e" stroke="#1e1e1e" stroke-width="0.18">6</text>
<text x="387.1" y="595.70" font-size="8.3" text-anchor="middle" font-weight="normal" fill="#1e1e1e" textLength="33.4" lengthAdjust="spacingAndGlyphs" stroke="#1e1e1e" stroke-width="0.3">Time (years)</text>
<text transform="translate(274.6,512.6) rotate(-90)" x="0" y="0" font-size="8.3" text-anchor="middle" font-weight="normal" fill="#1e1e1e" textLength="45.5" lengthAdjust="spacingAndGlyphs" stroke="#1e1e1e" stroke-width="0.3">EFS (probability)</text>
<text x="174.6" y="453.56" font-size="5.25" text-anchor="start" font-weight="normal" fill="#1e1e1e" textLength="30.8" lengthAdjust="spacingAndGlyphs" stroke="#1e1e1e" stroke-width="0.18">HOXA10-AS</text>
<rect x="174.6" y="458.59999999999997" width="9.2" height="9.2" fill="#e6e9f0"/>
<line x1="175.1" y1="463.2" x2="183.29999999999998" y2="463.2" stroke="#2f5190" stroke-width="1.25"/>
<line x1="179.2" y1="461.59999999999997" x2="179.2" y2="464.8" stroke="#2f5190" stroke-width="0.9"/>
<text x="186.79999999999998" y="465.06" font-size="5.25" text-anchor="start" font-weight="normal" fill="#1e1e1e" stroke="#1e1e1e" stroke-width="0.18">low</text>
<rect x="174.6" y="470.4" width="9.2" height="9.2" fill="#f6dfe4"/>
<line x1="175.1" y1="475.0" x2="183.29999999999998" y2="475.0" stroke="#b8163c" stroke-width="1.25"/>
<line x1="179.2" y1="473.4" x2="179.2" y2="476.6" stroke="#b8163c" stroke-width="0.9"/>
<text x="186.79999999999998" y="476.86" font-size="5.25" text-anchor="start" font-weight="normal" fill="#1e1e1e" stroke="#1e1e1e" stroke-width="0.18">high</text>
<text x="426.8" y="450.16" font-size="5.25" text-anchor="start" font-weight="normal" fill="#1e1e1e" textLength="30.8" lengthAdjust="spacingAndGlyphs" stroke="#1e1e1e" stroke-width="0.18">HOXA10-AS</text>
<rect x="426.8" y="455.2" width="9.2" height="9.2" fill="#e6e9f0"/>
<line x1="427.3" y1="459.8" x2="435.5" y2="459.8" stroke="#2f5190" stroke-width="1.25"/>
<line x1="431.40000000000003" y1="458.2" x2="431.40000000000003" y2="461.40000000000003" stroke="#2f5190" stroke-width="0.9"/>
<text x="439.0" y="461.66" font-size="5.25" text-anchor="start" font-weight="normal" fill="#1e1e1e" stroke="#1e1e1e" stroke-width="0.18">low</text>
<rect x="426.8" y="467.0" width="9.2" height="9.2" fill="#f6dfe4"/>
<line x1="427.3" y1="471.6" x2="435.5" y2="471.6" stroke="#b8163c" stroke-width="1.25"/>
<line x1="431.40000000000003" y1="470.0" x2="431.40000000000003" y2="473.20000000000005" stroke="#b8163c" stroke-width="0.9"/>
<text x="439.0" y="473.46" font-size="5.25" text-anchor="start" font-weight="normal" fill="#1e1e1e" stroke="#1e1e1e" stroke-width="0.18">high</text>
<polygon points="47.3,459.0 53.9,459.5 62.9,460.2 65.1,465.4 67.3,472.9 71.1,480.3 72.4,482.0 76.5,486.6 82.3,489.9 88.9,495.7 93.1,497.8 100.0,499.0 105.0,500.5 183.5,500.8 183.5,502.0 215.6,502.0 215.6,525.0 183.5,525.0 183.5,523.7 102.7,523.4 95.5,520.5 84.8,513.1 76.5,503.1 70.7,490.7 66.0,484.0 63.0,478.0 60.0,472.0 56.0,470.0 53.0,466.0 47.3,460.0" fill="#e6e9f0" stroke="none"/>
<g style="mix-blend-mode:multiply">
<polygon points="47.3,459.0 52.0,459.0 54.0,461.0 57.0,466.0 60.0,470.0 63.0,472.0 66.0,477.0 68.0,483.0 70.0,490.0 73.0,496.0 77.0,502.0 82.0,508.0 88.0,513.0 95.0,518.0 102.0,522.0 110.0,525.0 120.0,528.5 127.0,528.5 127.0,529.8 215.6,529.8 215.6,543.8 130.0,543.8 125.0,541.5 115.0,538.0 105.0,533.0 96.4,529.6 88.9,526.3 80.7,521.3 72.4,513.1 68.3,502.3 65.0,490.0 62.0,481.0 59.0,479.0 56.0,474.0 54.0,468.0 52.0,463.0 47.3,461.0" fill="#f6dfe4" stroke="none"/>
</g>
<polyline points="47.3,459.5 52.3,459.5 53.5,464.3 60.9,464.3 63.4,467.4 65.5,470.3 67.6,475.2 68.8,477.3 70.0,483.9 72.6,491.6 76.1,498.5 79.0,499.7 81.9,500.6 84.2,503.7 87.7,506.6 90.5,510.3 99.5,510.3 101.0,513.3 183.3,513.3 184.5,515.0 215.6,515.0" fill="none" stroke="#2f5190" stroke-width="1.25" stroke-linejoin="miter"/>
<polyline points="47.3,459.6 52.3,459.8 53.5,464.1 54.7,468.6 56.4,472.4 58.0,474.2 61.0,474.6 62.6,476.5 64.7,480.6 66.3,485.6 68.4,492.2 69.6,497.1 71.5,502.0 74.9,507.7 78.4,514.7 81.3,519.3 85.3,522.8 90.0,524.5 95.7,529.1 101.5,530.9 106.1,533.8 115.4,534.9 120.0,536.2 126.7,536.2 127.5,537.5 215.6,537.5" fill="none" stroke="#b8163c" stroke-width="1.25" stroke-linejoin="miter"/>
<line x1="108.2" y1="511.69999999999993" x2="108.2" y2="514.9" stroke="#2f5190" stroke-width="0.9"/>
<line x1="135" y1="511.69999999999993" x2="135" y2="514.9" stroke="#2f5190" stroke-width="0.9"/>
<line x1="145" y1="511.69999999999993" x2="145" y2="514.9" stroke="#2f5190" stroke-width="0.9"/>
<line x1="158.5" y1="511.69999999999993" x2="158.5" y2="514.9" stroke="#2f5190" stroke-width="0.9"/>
<line x1="170" y1="511.69999999999993" x2="170" y2="514.9" stroke="#2f5190" stroke-width="0.9"/>
<line x1="177.7" y1="511.69999999999993" x2="177.7" y2="514.9" stroke="#2f5190" stroke-width="0.9"/>
<line x1="191.2" y1="513.4" x2="191.2" y2="516.6" stroke="#2f5190" stroke-width="0.9"/>
<line x1="196" y1="513.4" x2="196" y2="516.6" stroke="#2f5190" stroke-width="0.9"/>
<line x1="197.9" y1="513.4" x2="197.9" y2="516.6" stroke="#2f5190" stroke-width="0.9"/>
<line x1="212" y1="513.4" x2="212" y2="516.6" stroke="#2f5190" stroke-width="0.9"/>
<line x1="214.2" y1="513.4" x2="214.2" y2="516.6" stroke="#2f5190" stroke-width="0.9"/>
<line x1="132.5" y1="535.9" x2="132.5" y2="539.1" stroke="#b8163c" stroke-width="0.9"/>
<line x1="159.4" y1="535.9" x2="159.4" y2="539.1" stroke="#b8163c" stroke-width="0.9"/>
<line x1="163.8" y1="535.9" x2="163.8" y2="539.1" stroke="#b8163c" stroke-width="0.9"/>
<line x1="167.1" y1="535.9" x2="167.1" y2="539.1" stroke="#b8163c" stroke-width="0.9"/>
<line x1="172.9" y1="535.9" x2="172.9" y2="539.1" stroke="#b8163c" stroke-width="0.9"/>
<line x1="174.8" y1="535.9" x2="174.8" y2="539.1" stroke="#b8163c" stroke-width="0.9"/>
<line x1="177.7" y1="535.9" x2="177.7" y2="539.1" stroke="#b8163c" stroke-width="0.9"/>
<line x1="181.5" y1="535.9" x2="181.5" y2="539.1" stroke="#b8163c" stroke-width="0.9"/>
<line x1="183.5" y1="535.9" x2="183.5" y2="539.1" stroke="#b8163c" stroke-width="0.9"/>
<line x1="186.3" y1="535.9" x2="186.3" y2="539.1" stroke="#b8163c" stroke-width="0.9"/>
<line x1="190.2" y1="535.9" x2="190.2" y2="539.1" stroke="#b8163c" stroke-width="0.9"/>
<line x1="192.1" y1="535.9" x2="192.1" y2="539.1" stroke="#b8163c" stroke-width="0.9"/>
<line x1="195" y1="535.9" x2="195" y2="539.1" stroke="#b8163c" stroke-width="0.9"/>
<line x1="199.8" y1="535.9" x2="199.8" y2="539.1" stroke="#b8163c" stroke-width="0.9"/>
<line x1="202.7" y1="535.9" x2="202.7" y2="539.1" stroke="#b8163c" stroke-width="0.9"/>
<line x1="204.6" y1="535.9" x2="204.6" y2="539.1" stroke="#b8163c" stroke-width="0.9"/>
<line x1="208.5" y1="535.9" x2="208.5" y2="539.1" stroke="#b8163c" stroke-width="0.9"/>
<line x1="211.3" y1="535.9" x2="211.3" y2="539.1" stroke="#b8163c" stroke-width="0.9"/>
<polygon points="307.2,458.5 310.0,459.3 323.6,460.0 325.5,462.4 327.3,466.2 327.9,471.1 329.2,476.7 331.0,478.6 334.8,479.8 337.8,481.7 341.0,484.8 344.7,487.9 349.0,491.0 354.6,492.2 359.5,493.4 365.0,493.7 476.7,493.7 476.7,526.5 361.2,525.8 355.0,524.0 350.4,521.9 345.0,519.5 341.2,516.5 337.8,512.0 335.4,508.3 331.7,504.6 328.6,499.6 326.7,494.7 323.6,489.7 319.9,482.9 318.6,481.0 316.8,477.3 313.7,472.4 310.0,467.4 307.5,459.3" fill="#e6e9f0" stroke="none"/>
<g style="mix-blend-mode:multiply">
<polygon points="307.2,458.5 308.7,462.4 310.0,467.4 314.9,473.6 318.6,479.8 321.1,487.2 323.6,495.9 326.1,504.6 329.2,509.5 332.3,513.3 335.0,519.6 339.6,524.2 345.8,528.1 353.5,530.4 365.8,533.5 378.1,536.5 385.8,539.6 415.0,540.4 476.7,543.0 476.7,556.1 415.0,553.5 385.8,552.7 378.1,551.2 365.8,548.1 353.5,545.8 344.2,541.9 339.6,538.1 335.0,531.9 331.7,529.4 328.6,524.4 325.5,519.5 323.6,514.5 321.1,508.3 318.6,502.1 316.2,494.7 313.7,487.2 311.2,479.8 308.7,471.1 307.7,464.9 307.2,459.0" fill="#f6dfe4" stroke="none"/>
</g>
<polyline points="307.2,458.7 309.3,466.4 317.4,466.4 318.6,469.6 319.9,471.7 323.6,471.7 324.8,473.6 326.3,477.3 327.3,479.8 328.6,484.8 329.8,489.7 331.0,493.4 331.7,496.3 338.5,496.3 339.1,499.0 340.3,501.5 342.2,502.7 343.4,504.6 346.5,504.6 347.8,506.4 352.1,507.1 353.3,509.5 359.5,510.2 361.4,512.6 476.7,512.8" fill="none" stroke="#2f5190" stroke-width="1.25" stroke-linejoin="miter"/>
<polyline points="307.2,458.7 308.1,464.9 310.0,471.7 312.4,476.1 314.3,479.8 316.2,483.5 317.4,489.7 318.6,497.1 320.5,502.1 322.4,505.8 324.2,509.5 326.1,515.7 329.8,518.8 332.9,522.6 335.0,527.3 338.1,531.2 341.9,532.7 344.2,534.2 346.5,537.3 350.4,538.8 358.1,540.4 365.8,541.9 370.4,543.5 378.8,543.5 381.2,545.8 387.3,547.6 396.5,548.5 427.0,548.5 427.0,549.7 463.6,549.7 463.6,551.2 476.7,551.2" fill="none" stroke="#b8163c" stroke-width="1.25" stroke-linejoin="miter"/>
<line x1="390.1" y1="511.0497831743278" x2="390.1" y2="514.2497831743278" stroke="#2f5190" stroke-width="0.9"/>
<line x1="393.8" y1="511.05620121422373" x2="393.8" y2="514.2562012142238" stroke="#2f5190" stroke-width="0.9"/>
<line x1="401.4" y1="511.0693842150911" x2="401.4" y2="514.2693842150911" stroke="#2f5190" stroke-width="0.9"/>
<line x1="405.1" y1="511.0758022549869" x2="405.1" y2="514.275802254987" stroke="#2f5190" stroke-width="0.9"/>
<line x1="406.6" y1="511.0784041630528" x2="406.6" y2="514.2784041630529" stroke="#2f5190" stroke-width="0.9"/>
<line x1="422.5" y1="511.1059843885515" x2="422.5" y2="514.3059843885516" stroke="#2f5190" stroke-width="0.9"/>
<line x1="428.5" y1="511.11639202081517" x2="428.5" y2="514.3163920208152" stroke="#2f5190" stroke-width="0.9"/>
<line x1="432.1" y1="511.12263660017345" x2="432.1" y2="514.3226366001735" stroke="#2f5190" stroke-width="0.9"/>
<line x1="433.4" y1="511.1248915871639" x2="433.4" y2="514.324891587164" stroke="#2f5190" stroke-width="0.9"/>
<line x1="437.1" y1="511.13130962705975" x2="437.1" y2="514.3313096270598" stroke="#2f5190" stroke-width="0.9"/>
<line x1="439.8" y1="511.13599306157846" x2="439.8" y2="514.3359930615785" stroke="#2f5190" stroke-width="0.9"/>
<line x1="474.5" y1="511.1961838681699" x2="474.5" y2="514.3961838681699" stroke="#2f5190" stroke-width="0.9"/>
<line x1="396.9" y1="546.9" x2="396.9" y2="550.1" stroke="#b8163c" stroke-width="0.9"/>
<line x1="402.4" y1="546.9" x2="402.4" y2="550.1" stroke="#b8163c" stroke-width="0.9"/>
<line x1="416" y1="546.9" x2="416" y2="550.1" stroke="#b8163c" stroke-width="0.9"/>
<line x1="423.4" y1="546.9" x2="423.4" y2="550.1" stroke="#b8163c" stroke-width="0.9"/>
<line x1="438.9" y1="548.1" x2="438.9" y2="551.3000000000001" stroke="#b8163c" stroke-width="0.9"/>
<line x1="445.3" y1="548.1" x2="445.3" y2="551.3000000000001" stroke="#b8163c" stroke-width="0.9"/>
<line x1="467.2" y1="549.6" x2="467.2" y2="552.8000000000001" stroke="#b8163c" stroke-width="0.9"/>
<text x="53.2" y="540.80" font-size="5.4" text-anchor="start" font-weight="normal" fill="#1e1e1e" textLength="22.4" lengthAdjust="spacingAndGlyphs" stroke="#1e1e1e" stroke-width="0.18">Log−rank</text>
<text x="53.2" y="547.80" font-size="5.4" text-anchor="start" font-weight="normal" fill="#1e1e1e" textLength="26.9" lengthAdjust="spacingAndGlyphs" stroke="#1e1e1e" stroke-width="0.18">p = 0.0015</text>
<text x="311.9" y="554.40" font-size="6.6" text-anchor="start" font-weight="normal" fill="#1e1e1e" textLength="26.9" lengthAdjust="spacingAndGlyphs" stroke="#1e1e1e" stroke-width="0.18">Log−rank</text>
<text x="311.9" y="561.20" font-size="5.2" text-anchor="start" font-weight="normal" fill="#1e1e1e" textLength="25.8" lengthAdjust="spacingAndGlyphs" stroke="#1e1e1e" stroke-width="0.18">p &lt; 0.0001</text>
<circle cx="91.0" cy="63.4" r="1.55" fill="#e3e3e3"/>
<circle cx="103.8" cy="55.9" r="1.55" fill="#e3e3e3"/>
<circle cx="137.4" cy="67.6" r="1.55" fill="#e3e3e3"/>
<circle cx="155.6" cy="73.9" r="1.55" fill="#e3e3e3"/>
<circle cx="140.8" cy="96.3" r="1.55" fill="#e3e3e3"/>
<polygon points="130.0,118.7 128.0,122.3 132.0,122.3" fill="#e3e3e3"/>
<circle cx="159.0" cy="90.0" r="1.55" fill="#e3e3e3"/>
<circle cx="182.0" cy="87.6" r="1.55" fill="#e3e3e3"/>
<circle cx="153.2" cy="107.9" r="1.55" fill="#e3e3e3"/>
<circle cx="143.9" cy="114.3" r="1.55" fill="#e3e3e3"/>
<circle cx="189.1" cy="110.8" r="1.55" fill="#e3e3e3"/>
<circle cx="57.0" cy="122.5" r="1.55" fill="#e3e3e3"/>
<circle cx="70.8" cy="125.4" r="1.55" fill="#e3e3e3"/>
<circle cx="65.7" cy="133.6" r="1.55" fill="#e3e3e3"/>
<circle cx="62.5" cy="140.5" r="1.55" fill="#e3e3e3"/>
<circle cx="124.1" cy="151.3" r="1.55" fill="#e3e3e3"/>
<polygon points="138.7,151.3 136.7,154.9 140.7,154.9" fill="#e3e3e3"/>
<circle cx="107.1" cy="160.6" r="1.55" fill="#e3e3e3"/>
<circle cx="78.7" cy="41.3" r="1.55" fill="#b9b9b9"/>
<circle cx="74.5" cy="42.4" r="1.55" fill="#b9b9b9"/>
<circle cx="71.3" cy="55.7" r="1.55" fill="#b9b9b9"/>
<circle cx="69.1" cy="61.5" r="1.55" fill="#b9b9b9"/>
<circle cx="83.0" cy="64.6" r="1.55" fill="#b9b9b9"/>
<circle cx="88.9" cy="67.4" r="1.55" fill="#b9b9b9"/>
<circle cx="90.5" cy="68.7" r="1.55" fill="#b9b9b9"/>
<circle cx="105.5" cy="50.3" r="1.55" fill="#b9b9b9"/>
<circle cx="107.5" cy="63.8" r="1.55" fill="#b9b9b9"/>
<circle cx="101.4" cy="67.1" r="1.55" fill="#b9b9b9"/>
<circle cx="106.8" cy="71.9" r="1.55" fill="#b9b9b9"/>
<circle cx="139.4" cy="74.6" r="1.55" fill="#b9b9b9"/>
<circle cx="142.0" cy="75.8" r="1.55" fill="#b9b9b9"/>
<circle cx="144.5" cy="79.7" r="1.55" fill="#b9b9b9"/>
<circle cx="142.8" cy="82.0" r="1.55" fill="#b9b9b9"/>
<circle cx="159.0" cy="80.3" r="1.55" fill="#b9b9b9"/>
<circle cx="131.1" cy="83.9" r="1.55" fill="#b9b9b9"/>
<circle cx="136.6" cy="85.7" r="1.55" fill="#b9b9b9"/>
<circle cx="141.9" cy="103.2" r="1.55" fill="#b9b9b9"/>
<circle cx="117.7" cy="102.3" r="1.55" fill="#b9b9b9"/>
<circle cx="127.6" cy="116.4" r="1.55" fill="#b9b9b9"/>
<circle cx="154.3" cy="90.7" r="1.55" fill="#b9b9b9"/>
<circle cx="180.1" cy="91.1" r="1.55" fill="#b9b9b9"/>
<polygon points="124.4,159.2 122.4,162.8 126.4,162.8" fill="#b9b9b9"/>
<circle cx="115.4" cy="177.5" r="1.55" fill="#b9b9b9"/>
<circle cx="85.7" cy="42.0" r="1.55" fill="#d5e09a"/>
<circle cx="90.2" cy="39.8" r="1.55" fill="#d5e09a"/>
<circle cx="91.9" cy="40.1" r="1.55" fill="#d5e09a"/>
<circle cx="86.4" cy="44.7" r="1.55" fill="#d5e09a"/>
<circle cx="86.7" cy="46.7" r="1.55" fill="#d5e09a"/>
<circle cx="81.6" cy="45.5" r="1.55" fill="#d5e09a"/>
<circle cx="77.9" cy="48.3" r="1.55" fill="#d5e09a"/>
<circle cx="75.4" cy="50.6" r="1.55" fill="#d5e09a"/>
<circle cx="80.8" cy="51.5" r="1.55" fill="#d5e09a"/>
<circle cx="87.1" cy="54.0" r="1.55" fill="#d5e09a"/>
<circle cx="89.4" cy="58.3" r="1.55" fill="#d5e09a"/>
<circle cx="86.4" cy="60.3" r="1.55" fill="#d5e09a"/>
<circle cx="83.3" cy="66.8" r="1.55" fill="#d5e09a"/>
<circle cx="81.6" cy="78.1" r="1.55" fill="#d5e09a"/>
<circle cx="93.3" cy="46.4" r="1.55" fill="#d5e09a"/>
<circle cx="100.4" cy="47.3" r="1.55" fill="#d5e09a"/>
<circle cx="96.3" cy="52.3" r="1.55" fill="#d5e09a"/>
<circle cx="93.6" cy="56.4" r="1.55" fill="#d5e09a"/>
<circle cx="105.8" cy="54.1" r="1.55" fill="#d5e09a"/>
<circle cx="111.1" cy="56.2" r="1.55" fill="#d5e09a"/>
<circle cx="113.4" cy="55.1" r="1.55" fill="#d5e09a"/>
<circle cx="101.4" cy="57.2" r="1.55" fill="#d5e09a"/>
<circle cx="105.1" cy="58.5" r="1.55" fill="#d5e09a"/>
<circle cx="122.1" cy="50.6" r="1.55" fill="#d5e09a"/>
<circle cx="99.4" cy="64.3" r="1.55" fill="#d5e09a"/>
<circle cx="104.3" cy="70.7" r="1.55" fill="#d5e09a"/>
<circle cx="107.5" cy="73.6" r="1.55" fill="#d5e09a"/>
<circle cx="102.0" cy="78.5" r="1.55" fill="#d5e09a"/>
<circle cx="117.7" cy="71.9" r="1.55" fill="#d5e09a"/>
<circle cx="120.4" cy="74.6" r="1.55" fill="#d5e09a"/>
<circle cx="119.1" cy="78.0" r="1.55" fill="#d5e09a"/>
<circle cx="113.6" cy="81.4" r="1.55" fill="#d5e09a"/>
<circle cx="135.9" cy="71.5" r="1.55" fill="#d5e09a"/>
<circle cx="136.9" cy="82.4" r="1.55" fill="#d5e09a"/>
<circle cx="140.0" cy="82.4" r="1.55" fill="#d5e09a"/>
<circle cx="147.2" cy="59.4" r="1.55" fill="#d5e09a"/>
<circle cx="166.8" cy="59.6" r="1.55" fill="#d5e09a"/>
<circle cx="165.6" cy="67.2" r="1.55" fill="#d5e09a"/>
<circle cx="170.1" cy="70.2" r="1.55" fill="#d5e09a"/>
<circle cx="123.7" cy="96.3" r="1.55" fill="#d5e09a"/>
<circle cx="152.5" cy="97.6" r="1.55" fill="#d5e09a"/>
<circle cx="179.6" cy="90.4" r="1.55" fill="#d5e09a"/>
<circle cx="132.3" cy="100.7" r="1.55" fill="#eda247"/>
<circle cx="138.1" cy="115.0" r="1.55" fill="#eda247"/>
<circle cx="170.1" cy="94.8" r="1.55" fill="#eda247"/>
<circle cx="174.6" cy="94.0" r="1.55" fill="#eda247"/>
<circle cx="184.3" cy="99.3" r="1.55" fill="#eda247"/>
<circle cx="47.0" cy="118.8" r="1.55" fill="#4a88cf"/>
<circle cx="64.2" cy="116.2" r="1.55" fill="#4a88cf"/>
<circle cx="67.6" cy="120.4" r="1.55" fill="#4a88cf"/>
<circle cx="51.4" cy="121.4" r="1.55" fill="#4a88cf"/>
<circle cx="60.0" cy="121.4" r="1.55" fill="#4a88cf"/>
<circle cx="61.5" cy="123.1" r="1.55" fill="#4a88cf"/>
<circle cx="67.8" cy="124.9" r="1.55" fill="#4a88cf"/>
<circle cx="74.8" cy="126.2" r="1.55" fill="#4a88cf"/>
<circle cx="77.8" cy="124.3" r="1.55" fill="#4a88cf"/>
<circle cx="47.5" cy="127.7" r="1.55" fill="#4a88cf"/>
<circle cx="50.2" cy="126.4" r="1.55" fill="#4a88cf"/>
<circle cx="57.0" cy="128.0" r="1.55" fill="#4a88cf"/>
<circle cx="59.2" cy="127.3" r="1.55" fill="#4a88cf"/>
<circle cx="60.4" cy="129.1" r="1.55" fill="#4a88cf"/>
<circle cx="72.7" cy="129.6" r="1.55" fill="#4a88cf"/>
<circle cx="78.0" cy="130.9" r="1.55" fill="#4a88cf"/>
<circle cx="86.9" cy="128.6" r="1.55" fill="#4a88cf"/>
<circle cx="90.2" cy="128.6" r="1.55" fill="#4a88cf"/>
<circle cx="67.1" cy="133.0" r="1.55" fill="#4a88cf"/>
<circle cx="51.4" cy="136.4" r="1.55" fill="#4a88cf"/>
<circle cx="57.9" cy="135.2" r="1.55" fill="#4a88cf"/>
<circle cx="60.8" cy="135.7" r="1.55" fill="#4a88cf"/>
<polygon points="66.0,135.4 64.0,139.0 68.0,139.0" fill="#4a88cf"/>
<circle cx="68.7" cy="139.2" r="1.55" fill="#4a88cf"/>
<circle cx="72.7" cy="136.8" r="1.55" fill="#4a88cf"/>
<circle cx="77.2" cy="135.2" r="1.55" fill="#4a88cf"/>
<circle cx="80.3" cy="136.2" r="1.55" fill="#4a88cf"/>
<circle cx="54.1" cy="139.6" r="1.55" fill="#4a88cf"/>
<circle cx="78.0" cy="139.4" r="1.55" fill="#4a88cf"/>
<circle cx="72.1" cy="143.1" r="1.55" fill="#4a88cf"/>
<circle cx="56.8" cy="145.5" r="1.55" fill="#4a88cf"/>
<circle cx="79.3" cy="145.5" r="1.55" fill="#4a88cf"/>
<circle cx="63.4" cy="147.3" r="1.55" fill="#4a88cf"/>
<circle cx="61.8" cy="148.7" r="1.55" fill="#4a88cf"/>
<circle cx="68.5" cy="147.9" r="1.55" fill="#4a88cf"/>
<circle cx="68.5" cy="150.5" r="1.55" fill="#4a88cf"/>
<circle cx="72.7" cy="149.1" r="1.55" fill="#4a88cf"/>
<circle cx="76.6" cy="152.4" r="1.55" fill="#4a88cf"/>
<circle cx="86.9" cy="140.5" r="1.55" fill="#4a88cf"/>
<circle cx="72.9" cy="46.4" r="1.55" fill="#4a4a4a"/>
<circle cx="88.9" cy="61.5" r="1.55" fill="#4a4a4a"/>
<circle cx="101.5" cy="61.3" r="1.55" fill="#4a4a4a"/>
<circle cx="104.3" cy="61.3" r="1.55" fill="#4a4a4a"/>
<circle cx="105.8" cy="62.7" r="1.55" fill="#4a4a4a"/>
<circle cx="103.3" cy="67.3" r="1.55" fill="#4a4a4a"/>
<circle cx="110.9" cy="68.1" r="1.55" fill="#4a4a4a"/>
<circle cx="93.9" cy="71.7" r="1.55" fill="#4a4a4a"/>
<circle cx="100.7" cy="73.5" r="1.55" fill="#4a4a4a"/>
<circle cx="121.4" cy="64.8" r="1.55" fill="#4a4a4a"/>
<circle cx="122.4" cy="76.6" r="1.55" fill="#4a4a4a"/>
<circle cx="117.5" cy="82.4" r="1.55" fill="#4a4a4a"/>
<circle cx="134.9" cy="64.6" r="1.55" fill="#4a4a4a"/>
<circle cx="133.3" cy="76.6" r="1.55" fill="#4a4a4a"/>
<circle cx="142.5" cy="76.8" r="1.55" fill="#4a4a4a"/>
<circle cx="136.7" cy="79.9" r="1.55" fill="#4a4a4a"/>
<circle cx="156.9" cy="59.9" r="1.55" fill="#4a4a4a"/>
<circle cx="158.4" cy="61.3" r="1.55" fill="#4a4a4a"/>
<circle cx="160.3" cy="61.3" r="1.55" fill="#4a4a4a"/>
<circle cx="168.4" cy="61.9" r="1.55" fill="#4a4a4a"/>
<rect x="163.7" y="62.7" width="2.8" height="2.8" fill="#4a4a4a"/>
<circle cx="167.9" cy="65.8" r="1.55" fill="#4a4a4a"/>
<circle cx="151.1" cy="73.4" r="1.55" fill="#4a4a4a"/>
<circle cx="158.1" cy="75.8" r="1.55" fill="#4a4a4a"/>
<circle cx="159.8" cy="77.3" r="1.55" fill="#4a4a4a"/>
<circle cx="141.9" cy="85.2" r="1.55" fill="#4a4a4a"/>
<circle cx="124.4" cy="86.0" r="1.55" fill="#4a4a4a"/>
<circle cx="127.2" cy="87.8" r="1.55" fill="#4a4a4a"/>
<circle cx="120.7" cy="90.7" r="1.55" fill="#4a4a4a"/>
<circle cx="125.8" cy="92.3" r="1.55" fill="#4a4a4a"/>
<circle cx="113.5" cy="95.5" r="1.55" fill="#4a4a4a"/>
<polygon points="142.1,97.0 140.1,100.6 144.1,100.6" fill="#4a4a4a"/>
<circle cx="144.2" cy="92.6" r="1.55" fill="#4a4a4a"/>
<circle cx="128.8" cy="100.8" r="1.55" fill="#4a4a4a"/>
<rect x="117.0" y="99.6" width="2.8" height="2.8" fill="#4a4a4a"/>
<circle cx="120.7" cy="103.7" r="1.55" fill="#4a4a4a"/>
<circle cx="123.7" cy="101.6" r="1.55" fill="#4a4a4a"/>
<rect x="124.4" y="103.4" width="2.8" height="2.8" fill="#4a4a4a"/>
<rect x="123.0" y="108.6" width="2.8" height="2.8" fill="#4a4a4a"/>
<rect x="137.3" y="110.0" width="2.8" height="2.8" fill="#4a4a4a"/>
<circle cx="140.8" cy="113.7" r="1.55" fill="#4a4a4a"/>
<circle cx="144.2" cy="118.5" r="1.55" fill="#4a4a4a"/>
<circle cx="156.2" cy="85.1" r="1.55" fill="#4a4a4a"/>
<circle cx="161.2" cy="84.2" r="1.55" fill="#4a4a4a"/>
<rect x="144.7" y="91.2" width="2.8" height="2.8" fill="#4a4a4a"/>
<circle cx="146.1" cy="94.8" r="1.55" fill="#4a4a4a"/>
<circle cx="158.4" cy="95.2" r="1.55" fill="#4a4a4a"/>
<rect x="146.4" y="103.5" width="2.8" height="2.8" fill="#4a4a4a"/>
<circle cx="146.5" cy="103.5" r="1.55" fill="#4a4a4a"/>
<circle cx="153.9" cy="112.7" r="1.55" fill="#4a4a4a"/>
<circle cx="151.7" cy="115.4" r="1.55" fill="#4a4a4a"/>
<circle cx="149.5" cy="116.0" r="1.55" fill="#4a4a4a"/>
<circle cx="147.2" cy="115.4" r="1.55" fill="#4a4a4a"/>
<rect x="152.9" y="112.9" width="2.8" height="2.8" fill="#4a4a4a"/>
<circle cx="190.7" cy="111.5" r="1.55" fill="#4a4a4a"/>
<circle cx="101.1" cy="136.2" r="1.55" fill="#4a4a4a"/>
<circle cx="102.7" cy="135.7" r="1.55" fill="#4a4a4a"/>
<circle cx="65.3" cy="119.4" r="1.55" fill="#142d84"/>
<circle cx="87.5" cy="142.8" r="1.55" fill="#142d84"/>
<circle cx="98.5" cy="145.4" r="1.55" fill="#142d84"/>
<circle cx="135.0" cy="142.1" r="1.55" fill="#142d84"/>
<circle cx="114.6" cy="148.9" r="1.55" fill="#142d84"/>
<circle cx="115.9" cy="151.0" r="1.55" fill="#142d84"/>
<circle cx="140.8" cy="150.2" r="1.55" fill="#142d84"/>
<circle cx="117.0" cy="154.8" r="1.55" fill="#142d84"/>
<circle cx="120.2" cy="153.9" r="1.55" fill="#142d84"/>
<circle cx="120.7" cy="155.8" r="1.55" fill="#142d84"/>
<circle cx="120.7" cy="157.4" r="1.55" fill="#142d84"/>
<circle cx="125.4" cy="154.8" r="1.55" fill="#142d84"/>
<circle cx="103.5" cy="157.4" r="1.55" fill="#142d84"/>
<circle cx="103.2" cy="159.0" r="1.55" fill="#142d84"/>
<circle cx="120.2" cy="159.5" r="1.55" fill="#142d84"/>
<circle cx="115.2" cy="161.6" r="1.55" fill="#142d84"/>
<circle cx="133.6" cy="160.0" r="1.55" fill="#142d84"/>
<circle cx="136.6" cy="159.5" r="1.55" fill="#142d84"/>
<circle cx="135.5" cy="162.2" r="1.55" fill="#142d84"/>
<circle cx="139.2" cy="163.2" r="1.55" fill="#142d84"/>
<circle cx="144.5" cy="159.5" r="1.55" fill="#142d84"/>
<circle cx="109.0" cy="165.3" r="1.55" fill="#142d84"/>
<circle cx="109.9" cy="165.3" r="1.55" fill="#142d84"/>
<circle cx="114.3" cy="165.7" r="1.55" fill="#142d84"/>
<circle cx="120.2" cy="166.7" r="1.55" fill="#142d84"/>
<circle cx="128.3" cy="165.0" r="1.55" fill="#142d84"/>
<circle cx="130.2" cy="166.1" r="1.55" fill="#142d84"/>
<circle cx="129.4" cy="167.4" r="1.55" fill="#142d84"/>
<circle cx="141.3" cy="166.1" r="1.55" fill="#142d84"/>
<circle cx="139.7" cy="168.5" r="1.55" fill="#142d84"/>
<circle cx="138.9" cy="170.3" r="1.55" fill="#142d84"/>
<circle cx="144.8" cy="166.4" r="1.55" fill="#142d84"/>
<circle cx="123.3" cy="171.9" r="1.55" fill="#142d84"/>
<circle cx="130.0" cy="173.1" r="1.55" fill="#142d84"/>
<circle cx="132.9" cy="175.4" r="1.55" fill="#142d84"/>
<circle cx="135.3" cy="178.2" r="1.55" fill="#142d84"/>
<circle cx="127.6" cy="177.7" r="1.55" fill="#142d84"/>
<circle cx="149.3" cy="152.1" r="1.55" fill="#142d84"/>
<circle cx="150.6" cy="156.3" r="1.55" fill="#142d84"/>
<circle cx="145.4" cy="159.3" r="1.55" fill="#142d84"/>
<circle cx="149.5" cy="163.2" r="1.55" fill="#142d84"/>
<circle cx="145.6" cy="166.6" r="1.55" fill="#142d84"/>
<circle cx="154.5" cy="164.3" r="1.55" fill="#142d84"/>
<circle cx="157.5" cy="165.7" r="1.55" fill="#142d84"/>
<circle cx="148.4" cy="171.0" r="1.55" fill="#142d84"/>
<circle cx="82.3" cy="40.6" r="1.55" fill="#050505"/>
<circle cx="77.9" cy="65.6" r="1.55" fill="#050505"/>
<circle cx="123.3" cy="89.9" r="1.55" fill="#050505"/>
<circle cx="131.3" cy="115.7" r="1.55" fill="#050505"/>
<circle cx="144.0" cy="109.7" r="1.55" fill="#050505"/>
<circle cx="118.8" cy="124.1" r="1.55" fill="#050505"/>
<circle cx="165.6" cy="95.7" r="1.55" fill="#050505"/>
<polygon points="176.6,95.5 174.6,99.1 178.6,99.1" fill="#050505"/>
<polygon points="179.6,95.3 177.6,98.9 181.6,98.9" fill="#050505"/>
<circle cx="181.0" cy="96.6" r="1.55" fill="#050505"/>
<circle cx="161.5" cy="118.5" r="1.55" fill="#050505"/>
<circle cx="402.9" cy="95.2" r="1.55" fill="#dbe29c"/>
<circle cx="406.9" cy="100.7" r="1.55" fill="#dbe29c"/>
<circle cx="450.5" cy="105.6" r="1.55" fill="#dbe29c"/>
<circle cx="452.5" cy="104.1" r="1.55" fill="#dbe29c"/>
<circle cx="442.7" cy="113.7" r="1.55" fill="#dbe29c"/>
<circle cx="409.5" cy="128.4" r="1.55" fill="#dbe29c"/>
<circle cx="425.6" cy="134.9" r="1.55" fill="#dbe29c"/>
<circle cx="395.3" cy="143.1" r="1.55" fill="#4a88cf"/>
<circle cx="389.4" cy="146.1" r="1.55" fill="#4a88cf"/>
<circle cx="386.5" cy="149.1" r="1.55" fill="#4a88cf"/>
<circle cx="380.7" cy="151.3" r="1.55" fill="#4a88cf"/>
<circle cx="382.8" cy="153.5" r="1.55" fill="#4a88cf"/>
<circle cx="381.2" cy="153.0" r="1.55" fill="#4a88cf"/>
<circle cx="379.1" cy="155.5" r="1.55" fill="#4a88cf"/>
<circle cx="380.7" cy="156.7" r="1.55" fill="#4a88cf"/>
<circle cx="386.2" cy="156.9" r="1.55" fill="#4a88cf"/>
<circle cx="379.1" cy="160.4" r="1.55" fill="#4a88cf"/>
<rect x="345.3" y="80.0" width="2.8" height="2.8" fill="#555555"/>
<circle cx="398.1" cy="42.8" r="1.55" fill="#555555"/>
<circle cx="393.2" cy="47.3" r="1.55" fill="#555555"/>
<circle cx="395.0" cy="48.1" r="1.55" fill="#555555"/>
<circle cx="396.6" cy="47.7" r="1.55" fill="#555555"/>
<circle cx="398.5" cy="48.7" r="1.55" fill="#555555"/>
<circle cx="400.3" cy="49.1" r="1.55" fill="#555555"/>
<circle cx="404.0" cy="52.1" r="1.55" fill="#555555"/>
<circle cx="403.8" cy="56.9" r="1.55" fill="#555555"/>
<circle cx="381.2" cy="60.9" r="1.55" fill="#555555"/>
<circle cx="376.7" cy="63.4" r="1.55" fill="#555555"/>
<circle cx="384.9" cy="65.7" r="1.55" fill="#555555"/>
<circle cx="378.0" cy="68.2" r="1.55" fill="#555555"/>
<circle cx="381.7" cy="72.4" r="1.55" fill="#555555"/>
<circle cx="384.9" cy="77.0" r="1.55" fill="#555555"/>
<circle cx="400.3" cy="61.1" r="1.55" fill="#555555"/>
<circle cx="397.6" cy="64.5" r="1.55" fill="#555555"/>
<circle cx="401.9" cy="66.9" r="1.55" fill="#555555"/>
<circle cx="404.0" cy="67.4" r="1.55" fill="#555555"/>
<rect x="396.2" y="70.3" width="2.8" height="2.8" fill="#555555"/>
<circle cx="403.4" cy="71.7" r="1.55" fill="#555555"/>
<circle cx="398.7" cy="77.0" r="1.55" fill="#555555"/>
<circle cx="400.8" cy="77.3" r="1.55" fill="#555555"/>
<circle cx="407.5" cy="64.6" r="1.55" fill="#555555"/>
<circle cx="406.3" cy="74.9" r="1.55" fill="#555555"/>
<circle cx="407.5" cy="79.3" r="1.55" fill="#555555"/>
<circle cx="336.9" cy="85.5" r="1.55" fill="#555555"/>
<rect x="350.0" y="85.4" width="2.8" height="2.8" fill="#555555"/>
<rect x="355.2" y="84.3" width="2.8" height="2.8" fill="#555555"/>
<circle cx="323.4" cy="90.7" r="1.55" fill="#555555"/>
<circle cx="331.7" cy="115.7" r="1.55" fill="#555555"/>
<circle cx="343.0" cy="115.3" r="1.55" fill="#555555"/>
<circle cx="325.7" cy="126.7" r="1.55" fill="#555555"/>
<circle cx="336.9" cy="128.9" r="1.55" fill="#555555"/>
<circle cx="346.5" cy="130.9" r="1.55" fill="#555555"/>
<rect x="354.7" y="90.1" width="2.8" height="2.8" fill="#555555"/>
<rect x="357.6" y="90.7" width="2.8" height="2.8" fill="#555555"/>
<rect x="359.0" y="90.3" width="2.8" height="2.8" fill="#555555"/>
<circle cx="357.9" cy="103.9" r="1.55" fill="#555555"/>
<circle cx="389.7" cy="94.0" r="1.55" fill="#555555"/>
<circle cx="394.4" cy="96.0" r="1.55" fill="#555555"/>
<circle cx="398.7" cy="101.8" r="1.55" fill="#555555"/>
<circle cx="356.3" cy="120.8" r="1.55" fill="#555555"/>
<circle cx="358.5" cy="124.9" r="1.55" fill="#555555"/>
<circle cx="378.8" cy="121.7" r="1.55" fill="#555555"/>
<circle cx="391.5" cy="122.2" r="1.55" fill="#555555"/>
<circle cx="396.2" cy="121.7" r="1.55" fill="#555555"/>
<circle cx="360.0" cy="132.0" r="1.55" fill="#555555"/>
<circle cx="421.7" cy="96.4" r="1.55" fill="#555555"/>
<circle cx="415.2" cy="100.7" r="1.55" fill="#555555"/>
<circle cx="416.7" cy="105.1" r="1.55" fill="#555555"/>
<circle cx="415.6" cy="106.5" r="1.55" fill="#555555"/>
<circle cx="423.1" cy="106.2" r="1.55" fill="#555555"/>
<rect x="419.9" y="108.1" width="2.8" height="2.8" fill="#555555"/>
<circle cx="413.6" cy="109.9" r="1.55" fill="#555555"/>
<circle cx="431.7" cy="110.3" r="1.55" fill="#555555"/>
<circle cx="426.5" cy="112.9" r="1.55" fill="#555555"/>
<circle cx="430.2" cy="114.1" r="1.55" fill="#555555"/>
<circle cx="430.2" cy="117.5" r="1.55" fill="#555555"/>
<circle cx="415.2" cy="116.6" r="1.55" fill="#555555"/>
<circle cx="411.5" cy="117.5" r="1.55" fill="#555555"/>
<circle cx="412.7" cy="120.1" r="1.55" fill="#555555"/>
<circle cx="414.4" cy="121.2" r="1.55" fill="#555555"/>
<circle cx="417.3" cy="122.9" r="1.55" fill="#555555"/>
<circle cx="421.9" cy="120.3" r="1.55" fill="#555555"/>
<circle cx="436.9" cy="120.3" r="1.55" fill="#555555"/>
<circle cx="410.4" cy="130.7" r="1.55" fill="#555555"/>
<circle cx="416.7" cy="129.3" r="1.55" fill="#555555"/>
<circle cx="428.3" cy="126.4" r="1.55" fill="#555555"/>
<circle cx="429.8" cy="128.1" r="1.55" fill="#555555"/>
<circle cx="430.2" cy="131.6" r="1.55" fill="#555555"/>
<circle cx="346.9" cy="136.8" r="1.55" fill="#555555"/>
<circle cx="320.0" cy="145.5" r="1.55" fill="#555555"/>
<circle cx="381.7" cy="137.5" r="1.55" fill="#555555"/>
<circle cx="390.0" cy="139.6" r="1.55" fill="#555555"/>
<circle cx="359.3" cy="170.9" r="1.55" fill="#555555"/>
<circle cx="410.2" cy="134.9" r="1.55" fill="#555555"/>
<circle cx="420.2" cy="149.5" r="1.55" fill="#555555"/>
<circle cx="325.3" cy="41.3" r="1.55" fill="#3b1578"/>
<circle cx="334.8" cy="39.9" r="1.55" fill="#3b1578"/>
<circle cx="335.0" cy="42.1" r="1.55" fill="#3b1578"/>
<circle cx="337.7" cy="41.7" r="1.55" fill="#3b1578"/>
<circle cx="320.8" cy="44.2" r="1.55" fill="#3b1578"/>
<circle cx="318.4" cy="48.4" r="1.55" fill="#3b1578"/>
<circle cx="319.2" cy="50.0" r="1.55" fill="#3b1578"/>
<circle cx="320.0" cy="51.6" r="1.55" fill="#3b1578"/>
<circle cx="331.7" cy="46.3" r="1.55" fill="#3b1578"/>
<circle cx="331.3" cy="48.4" r="1.55" fill="#3b1578"/>
<circle cx="332.4" cy="50.2" r="1.55" fill="#3b1578"/>
<circle cx="333.8" cy="51.6" r="1.55" fill="#3b1578"/>
<circle cx="326.4" cy="51.0" r="1.55" fill="#3b1578"/>
<circle cx="328.7" cy="50.5" r="1.55" fill="#3b1578"/>
<circle cx="326.6" cy="54.0" r="1.55" fill="#3b1578"/>
<circle cx="328.7" cy="56.9" r="1.55" fill="#3b1578"/>
<circle cx="318.4" cy="147.7" r="1.55" fill="#d42a20"/>
<circle cx="332.4" cy="154.2" r="1.55" fill="#d42a20"/>
<circle cx="342.4" cy="175.9" r="1.55" fill="#142d84"/>
<circle cx="343.3" cy="177.5" r="1.55" fill="#142d84"/>
<circle cx="343.0" cy="178.6" r="1.55" fill="#142d84"/>
<circle cx="344.6" cy="175.4" r="1.55" fill="#142d84"/>
<circle cx="346.1" cy="174.3" r="1.55" fill="#142d84"/>
<circle cx="347.5" cy="173.5" r="1.55" fill="#142d84"/>
<circle cx="350.7" cy="173.6" r="1.55" fill="#142d84"/>
<circle cx="345.6" cy="175.9" r="1.55" fill="#142d84"/>
<circle cx="361.4" cy="140.7" r="1.55" fill="#d42a20"/>
<circle cx="392.9" cy="68.5" r="1.55" fill="#050505"/>
<rect x="341.3" y="92.8" width="2.8" height="2.8" fill="#050505"/>
<circle cx="346.1" cy="93.6" r="1.55" fill="#050505"/>
<circle cx="319.5" cy="98.1" r="1.55" fill="#050505"/>
<circle cx="332.1" cy="97.9" r="1.55" fill="#050505"/>
<rect x="333.6" y="100.0" width="2.8" height="2.8" fill="#050505"/>
<circle cx="311.8" cy="106.3" r="1.55" fill="#050505"/>
<circle cx="322.6" cy="108.2" r="1.55" fill="#050505"/>
<circle cx="326.6" cy="112.5" r="1.55" fill="#050505"/>
<circle cx="334.8" cy="113.4" r="1.55" fill="#050505"/>
<circle cx="340.9" cy="115.3" r="1.55" fill="#050505"/>
<circle cx="350.9" cy="118.3" r="1.55" fill="#050505"/>
<circle cx="307.0" cy="119.9" r="1.55" fill="#050505"/>
<circle cx="311.2" cy="118.8" r="1.55" fill="#050505"/>
<circle cx="316.5" cy="119.0" r="1.55" fill="#050505"/>
<circle cx="310.5" cy="122.5" r="1.55" fill="#050505"/>
<circle cx="320.4" cy="122.4" r="1.55" fill="#050505"/>
<circle cx="315.5" cy="125.4" r="1.55" fill="#050505"/>
<circle cx="306.7" cy="128.2" r="1.55" fill="#050505"/>
<circle cx="324.5" cy="127.7" r="1.55" fill="#050505"/>
<circle cx="334.5" cy="124.3" r="1.55" fill="#050505"/>
<circle cx="343.3" cy="125.9" r="1.55" fill="#050505"/>
<circle cx="321.8" cy="130.9" r="1.55" fill="#050505"/>
<circle cx="331.3" cy="133.5" r="1.55" fill="#050505"/>
<circle cx="360.0" cy="95.5" r="1.55" fill="#050505"/>
<circle cx="358.5" cy="94.7" r="1.55" fill="#050505"/>
<circle cx="377.3" cy="91.8" r="1.55" fill="#050505"/>
<circle cx="369.6" cy="101.3" r="1.55" fill="#050505"/>
<circle cx="393.9" cy="88.0" r="1.55" fill="#050505"/>
<circle cx="365.7" cy="116.9" r="1.55" fill="#050505"/>
<circle cx="377.3" cy="125.2" r="1.55" fill="#050505"/>
<circle cx="394.4" cy="131.0" r="1.55" fill="#050505"/>
<circle cx="355.8" cy="133.9" r="1.55" fill="#050505"/>
<circle cx="357.4" cy="135.4" r="1.55" fill="#050505"/>
<circle cx="361.9" cy="131.7" r="1.55" fill="#050505"/>
<circle cx="366.9" cy="133.3" r="1.55" fill="#050505"/>
<circle cx="436.1" cy="103.7" r="1.55" fill="#050505"/>
<circle cx="442.7" cy="111.4" r="1.55" fill="#050505"/>
<circle cx="449.6" cy="114.1" r="1.55" fill="#050505"/>
<circle cx="328.9" cy="139.6" r="1.55" fill="#050505"/>
<circle cx="330.3" cy="138.3" r="1.55" fill="#050505"/>
<circle cx="334.0" cy="140.3" r="1.55" fill="#050505"/>
<circle cx="341.4" cy="141.2" r="1.55" fill="#050505"/>
<circle cx="343.7" cy="137.5" r="1.55" fill="#050505"/>
<circle cx="350.9" cy="143.1" r="1.55" fill="#050505"/>
<rect x="341.3" y="145.1" width="2.8" height="2.8" fill="#050505"/>
<circle cx="375.4" cy="137.1" r="1.55" fill="#050505"/>
<circle cx="397.4" cy="138.3" r="1.55" fill="#050505"/>
<circle cx="362.2" cy="145.8" r="1.55" fill="#050505"/>
<circle cx="82.3" cy="248.1" r="1.55" fill="#b21a27"/>
<circle cx="78.7" cy="248.8" r="1.55" fill="#b21a27"/>
<circle cx="74.5" cy="249.9" r="1.55" fill="#b21a27"/>
<circle cx="72.9" cy="253.9" r="1.55" fill="#c9292a"/>
<circle cx="85.7" cy="249.5" r="1.55" fill="#fce9a1"/>
<circle cx="90.2" cy="247.3" r="1.55" fill="#ea7040"/>
<circle cx="91.9" cy="247.6" r="1.55" fill="#fadb85"/>
<circle cx="86.4" cy="252.2" r="1.55" fill="#c9292a"/>
<circle cx="86.7" cy="254.2" r="1.55" fill="#f08e4d"/>
<circle cx="81.6" cy="253.0" r="1.55" fill="#b21a27"/>
<circle cx="77.9" cy="255.8" r="1.55" fill="#f08e4d"/>
<circle cx="75.4" cy="258.1" r="1.55" fill="#ea7040"/>
<circle cx="80.8" cy="259.0" r="1.55" fill="#b21a27"/>
<circle cx="87.1" cy="261.5" r="1.55" fill="#f5ab5a"/>
<circle cx="71.3" cy="263.2" r="1.55" fill="#c9292a"/>
<circle cx="69.1" cy="269.0" r="1.55" fill="#3d5fad"/>
<circle cx="89.4" cy="265.8" r="1.55" fill="#da4c35"/>
<polygon points="86.4,265.9 84.4,269.5 88.4,269.5" fill="#f08e4d"/>
<circle cx="88.9" cy="269.0" r="1.55" fill="#f08e4d"/>
<rect x="89.6" y="269.5" width="2.8" height="2.8" fill="#f08e4d"/>
<circle cx="77.9" cy="273.1" r="1.55" fill="#c9292a"/>
<circle cx="83.0" cy="272.1" r="1.55" fill="#f5ab5a"/>
<circle cx="83.3" cy="274.3" r="1.55" fill="#ea7040"/>
<circle cx="88.9" cy="274.9" r="1.55" fill="#b21a27"/>
<circle cx="90.5" cy="276.2" r="1.55" fill="#f08e4d"/>
<circle cx="81.6" cy="285.6" r="1.55" fill="#f5ab5a"/>
<circle cx="93.3" cy="253.9" r="1.55" fill="#f5ab5a"/>
<circle cx="100.4" cy="254.8" r="1.55" fill="#b21a27"/>
<circle cx="96.3" cy="259.8" r="1.55" fill="#f08e4d"/>
<circle cx="93.6" cy="263.9" r="1.55" fill="#fce9a1"/>
<circle cx="105.5" cy="257.8" r="1.55" fill="#f08e4d"/>
<circle cx="105.8" cy="261.6" r="1.55" fill="#b21a27"/>
<circle cx="111.1" cy="263.7" r="1.55" fill="#fadb85"/>
<circle cx="113.4" cy="262.6" r="1.55" fill="#c9292a"/>
<circle cx="103.8" cy="263.4" r="1.55" fill="#ea7040"/>
<circle cx="101.4" cy="264.7" r="1.55" fill="#f08e4d"/>
<circle cx="105.1" cy="266.0" r="1.55" fill="#c9292a"/>
<circle cx="122.1" cy="258.1" r="1.55" fill="#f08e4d"/>
<circle cx="101.5" cy="268.8" r="1.55" fill="#f5ab5a"/>
<circle cx="104.3" cy="268.8" r="1.55" fill="#da4c35"/>
<circle cx="105.8" cy="270.2" r="1.55" fill="#f08e4d"/>
<circle cx="107.5" cy="271.3" r="1.55" fill="#f5ab5a"/>
<circle cx="99.4" cy="271.8" r="1.55" fill="#b21a27"/>
<circle cx="103.3" cy="274.8" r="1.55" fill="#f08e4d"/>
<circle cx="101.4" cy="274.6" r="1.55" fill="#f8c370"/>
<circle cx="110.9" cy="275.6" r="1.55" fill="#fadb85"/>
<circle cx="93.9" cy="279.2" r="1.55" fill="#f8c370"/>
<circle cx="100.7" cy="281.0" r="1.55" fill="#f5ab5a"/>
<circle cx="104.3" cy="278.2" r="1.55" fill="#f08e4d"/>
<circle cx="106.8" cy="279.4" r="1.55" fill="#f8c370"/>
<circle cx="107.5" cy="281.1" r="1.55" fill="#f08e4d"/>
<circle cx="102.0" cy="286.0" r="1.55" fill="#f08e4d"/>
<circle cx="121.4" cy="272.3" r="1.55" fill="#fadb85"/>
<polygon points="117.7,277.5 115.7,281.1 119.7,281.1" fill="#c9292a"/>
<circle cx="120.4" cy="282.1" r="1.55" fill="#f5ab5a"/>
<circle cx="122.4" cy="284.1" r="1.55" fill="#f8c370"/>
<circle cx="119.1" cy="285.5" r="1.55" fill="#f5ab5a"/>
<circle cx="113.6" cy="288.9" r="1.55" fill="#f08e4d"/>
<rect x="116.1" y="288.5" width="2.8" height="2.8" fill="#b21a27"/>
<circle cx="134.9" cy="272.1" r="1.55" fill="#f5ab5a"/>
<circle cx="137.4" cy="275.1" r="1.55" fill="#f8c370"/>
<circle cx="135.9" cy="279.0" r="1.55" fill="#b21a27"/>
<circle cx="133.3" cy="284.1" r="1.55" fill="#fce9a1"/>
<circle cx="139.4" cy="282.1" r="1.55" fill="#f08e4d"/>
<circle cx="142.0" cy="283.3" r="1.55" fill="#f5ab5a"/>
<circle cx="142.5" cy="284.3" r="1.55" fill="#f08e4d"/>
<circle cx="136.7" cy="287.4" r="1.55" fill="#f5ab5a"/>
<rect x="135.5" y="288.5" width="2.8" height="2.8" fill="#ea7040"/>
<rect x="138.6" y="288.5" width="2.8" height="2.8" fill="#da4c35"/>
<circle cx="144.5" cy="287.2" r="1.55" fill="#fadb85"/>
<circle cx="142.8" cy="289.5" r="1.55" fill="#f08e4d"/>
<circle cx="147.2" cy="266.9" r="1.55" fill="#f5ab5a"/>
<rect x="155.5" y="266.0" width="2.8" height="2.8" fill="#da4c35"/>
<circle cx="158.4" cy="268.8" r="1.55" fill="#f08e4d"/>
<rect x="158.9" y="267.4" width="2.8" height="2.8" fill="#da4c35"/>
<circle cx="166.8" cy="267.1" r="1.55" fill="#f08e4d"/>
<rect x="167.0" y="268.0" width="2.8" height="2.8" fill="#da4c35"/>
<rect x="163.7" y="270.2" width="2.8" height="2.8" fill="#da4c35"/>
<circle cx="167.9" cy="273.3" r="1.55" fill="#f5ab5a"/>
<circle cx="165.6" cy="274.7" r="1.55" fill="#c9292a"/>
<circle cx="170.1" cy="277.7" r="1.55" fill="#9c0a24"/>
<rect x="149.7" y="279.5" width="2.8" height="2.8" fill="#f5ab5a"/>
<polygon points="155.6,279.5 153.6,283.1 157.6,283.1" fill="#c9292a"/>
<rect x="156.7" y="281.9" width="2.8" height="2.8" fill="#ea7040"/>
<rect x="158.4" y="283.4" width="2.8" height="2.8" fill="#c9292a"/>
<circle cx="159.0" cy="287.8" r="1.55" fill="#fadb85"/>
<rect x="129.7" y="290.0" width="2.8" height="2.8" fill="#fadb85"/>
<circle cx="136.6" cy="293.2" r="1.55" fill="#fadb85"/>
<circle cx="141.9" cy="292.7" r="1.55" fill="#f08e4d"/>
<circle cx="124.4" cy="293.5" r="1.55" fill="#f08e4d"/>
<circle cx="127.2" cy="295.3" r="1.55" fill="#f08e4d"/>
<circle cx="123.3" cy="297.4" r="1.55" fill="#c9292a"/>
<circle cx="120.7" cy="298.2" r="1.55" fill="#fadb85"/>
<circle cx="125.8" cy="299.8" r="1.55" fill="#f08e4d"/>
<circle cx="113.5" cy="303.0" r="1.55" fill="#e2f0f2"/>
<circle cx="123.7" cy="303.8" r="1.55" fill="#a9d2e6"/>
<circle cx="140.8" cy="303.8" r="1.55" fill="#c6e1ec"/>
<circle cx="142.1" cy="306.4" r="1.55" fill="#fadb85"/>
<polygon points="141.9,308.8 139.9,312.4 143.9,312.4" fill="#567fbe"/>
<circle cx="144.2" cy="300.1" r="1.55" fill="#c9292a"/>
<circle cx="132.3" cy="308.2" r="1.55" fill="#3d5fad"/>
<circle cx="128.8" cy="308.3" r="1.55" fill="#567fbe"/>
<circle cx="118.4" cy="308.5" r="1.55" fill="#304496"/>
<circle cx="117.7" cy="309.8" r="1.55" fill="#304496"/>
<circle cx="120.7" cy="311.2" r="1.55" fill="#3d5fad"/>
<circle cx="123.7" cy="309.1" r="1.55" fill="#304496"/>
<circle cx="125.8" cy="312.3" r="1.55" fill="#304496"/>
<circle cx="124.4" cy="317.5" r="1.55" fill="#232a80"/>
<circle cx="131.3" cy="323.2" r="1.55" fill="#f5ab5a"/>
<circle cx="127.6" cy="323.9" r="1.55" fill="#f0f4d8"/>
<polygon points="130.0,326.2 128.0,329.8 132.0,329.8" fill="#f5ab5a"/>
<circle cx="138.1" cy="322.5" r="1.55" fill="#304496"/>
<circle cx="138.7" cy="318.9" r="1.55" fill="#304496"/>
<circle cx="140.8" cy="321.2" r="1.55" fill="#304496"/>
<circle cx="144.0" cy="317.2" r="1.55" fill="#a9d2e6"/>
<circle cx="144.2" cy="326.0" r="1.55" fill="#304496"/>
<circle cx="118.8" cy="331.6" r="1.55" fill="#3d5fad"/>
<circle cx="156.2" cy="292.6" r="1.55" fill="#fce9a1"/>
<circle cx="161.2" cy="291.7" r="1.55" fill="#f08e4d"/>
<circle cx="154.3" cy="298.2" r="1.55" fill="#f5ab5a"/>
<circle cx="159.0" cy="297.5" r="1.55" fill="#f08e4d"/>
<circle cx="146.1" cy="300.1" r="1.55" fill="#9c0a24"/>
<circle cx="146.1" cy="302.3" r="1.55" fill="#ea7040"/>
<circle cx="152.5" cy="305.1" r="1.55" fill="#f5ab5a"/>
<rect x="157.0" y="301.3" width="2.8" height="2.8" fill="#f08e4d"/>
<circle cx="165.6" cy="303.2" r="1.55" fill="#fce9a1"/>
<circle cx="170.1" cy="302.3" r="1.55" fill="#ea7040"/>
<circle cx="174.6" cy="301.5" r="1.55" fill="#c9292a"/>
<polygon points="176.6,303.0 174.6,306.6 178.6,306.6" fill="#ea7040"/>
<polygon points="179.6,302.8 177.6,306.4 181.6,306.4" fill="#ea7040"/>
<circle cx="181.0" cy="304.1" r="1.55" fill="#ea7040"/>
<circle cx="184.3" cy="306.8" r="1.55" fill="#3d5fad"/>
<circle cx="182.0" cy="295.1" r="1.55" fill="#c9292a"/>
<circle cx="180.1" cy="298.6" r="1.55" fill="#c9292a"/>
<circle cx="179.6" cy="297.9" r="1.55" fill="#c9292a"/>
<circle cx="147.8" cy="312.4" r="1.55" fill="#3d5fad"/>
<circle cx="146.5" cy="311.0" r="1.55" fill="#3d5fad"/>
<circle cx="153.2" cy="315.4" r="1.55" fill="#ea7040"/>
<circle cx="153.9" cy="320.2" r="1.55" fill="#6f9fcf"/>
<circle cx="151.7" cy="322.9" r="1.55" fill="#304496"/>
<circle cx="149.5" cy="323.5" r="1.55" fill="#304496"/>
<circle cx="147.2" cy="322.9" r="1.55" fill="#304496"/>
<circle cx="154.3" cy="321.8" r="1.55" fill="#567fbe"/>
<circle cx="143.9" cy="321.8" r="1.55" fill="#304496"/>
<circle cx="161.5" cy="326.0" r="1.55" fill="#3d5fad"/>
<circle cx="189.1" cy="318.3" r="1.55" fill="#3d5fad"/>
<circle cx="190.7" cy="319.0" r="1.55" fill="#3d5fad"/>
<circle cx="47.0" cy="326.3" r="1.55" fill="#232a80"/>
<circle cx="64.2" cy="323.7" r="1.55" fill="#f08e4d"/>
<circle cx="65.3" cy="326.9" r="1.55" fill="#8cb8da"/>
<circle cx="67.6" cy="327.9" r="1.55" fill="#304496"/>
<circle cx="51.4" cy="328.9" r="1.55" fill="#3d5fad"/>
<circle cx="57.0" cy="330.0" r="1.55" fill="#fdf7bd"/>
<circle cx="60.0" cy="328.9" r="1.55" fill="#e2f0f2"/>
<circle cx="61.5" cy="330.6" r="1.55" fill="#fdf7bd"/>
<circle cx="67.8" cy="332.4" r="1.55" fill="#232a80"/>
<circle cx="70.8" cy="332.9" r="1.55" fill="#304496"/>
<circle cx="74.8" cy="333.7" r="1.55" fill="#8cb8da"/>
<circle cx="77.8" cy="331.8" r="1.55" fill="#3d5fad"/>
<circle cx="47.5" cy="335.2" r="1.55" fill="#e2f0f2"/>
<circle cx="50.2" cy="333.9" r="1.55" fill="#a9d2e6"/>
<circle cx="57.0" cy="335.5" r="1.55" fill="#232a80"/>
<circle cx="59.2" cy="334.8" r="1.55" fill="#567fbe"/>
<circle cx="60.4" cy="336.6" r="1.55" fill="#232a80"/>
<circle cx="72.7" cy="337.1" r="1.55" fill="#fdf7bd"/>
<circle cx="78.0" cy="338.4" r="1.55" fill="#232a80"/>
<circle cx="86.9" cy="336.1" r="1.55" fill="#6f9fcf"/>
<circle cx="90.2" cy="336.1" r="1.55" fill="#a9d2e6"/>
<circle cx="65.7" cy="341.1" r="1.55" fill="#3d5fad"/>
<circle cx="67.1" cy="340.5" r="1.55" fill="#e2f0f2"/>
<circle cx="51.4" cy="343.9" r="1.55" fill="#232a80"/>
<circle cx="57.9" cy="342.7" r="1.55" fill="#fdf7bd"/>
<circle cx="60.8" cy="343.2" r="1.55" fill="#a9d2e6"/>
<circle cx="66.0" cy="344.8" r="1.55" fill="#fdf7bd"/>
<circle cx="68.7" cy="346.7" r="1.55" fill="#e2f0f2"/>
<circle cx="72.7" cy="344.3" r="1.55" fill="#304496"/>
<circle cx="77.2" cy="342.7" r="1.55" fill="#232a80"/>
<circle cx="80.3" cy="343.7" r="1.55" fill="#fdf7bd"/>
<polygon points="54.1,345.2 52.1,348.8 56.1,348.8" fill="#304496"/>
<circle cx="62.5" cy="348.0" r="1.55" fill="#f0f4d8"/>
<circle cx="78.0" cy="346.9" r="1.55" fill="#567fbe"/>
<circle cx="72.1" cy="350.6" r="1.55" fill="#a9d2e6"/>
<circle cx="56.8" cy="353.0" r="1.55" fill="#304496"/>
<circle cx="79.3" cy="353.0" r="1.55" fill="#232a80"/>
<circle cx="63.4" cy="354.8" r="1.55" fill="#fdf7bd"/>
<circle cx="61.8" cy="356.2" r="1.55" fill="#304496"/>
<circle cx="68.5" cy="355.4" r="1.55" fill="#a9d2e6"/>
<circle cx="68.5" cy="358.0" r="1.55" fill="#232a80"/>
<circle cx="72.7" cy="356.6" r="1.55" fill="#a9d2e6"/>
<circle cx="76.6" cy="359.9" r="1.55" fill="#304496"/>
<circle cx="86.9" cy="348.0" r="1.55" fill="#a9d2e6"/>
<polygon points="87.5,348.4 85.5,352.0 89.5,352.0" fill="#232a80"/>
<circle cx="101.1" cy="343.7" r="1.55" fill="#f08e4d"/>
<circle cx="102.7" cy="343.2" r="1.55" fill="#fce9a1"/>
<circle cx="98.5" cy="352.9" r="1.55" fill="#304496"/>
<circle cx="135.0" cy="349.6" r="1.55" fill="#567fbe"/>
<circle cx="114.6" cy="356.4" r="1.55" fill="#232a80"/>
<circle cx="115.9" cy="358.5" r="1.55" fill="#232a80"/>
<circle cx="124.1" cy="358.8" r="1.55" fill="#304496"/>
<circle cx="140.8" cy="357.7" r="1.55" fill="#304496"/>
<circle cx="138.7" cy="360.7" r="1.55" fill="#304496"/>
<circle cx="117.0" cy="362.3" r="1.55" fill="#567fbe"/>
<circle cx="120.2" cy="361.4" r="1.55" fill="#3d5fad"/>
<circle cx="120.7" cy="363.3" r="1.55" fill="#304496"/>
<circle cx="120.7" cy="364.9" r="1.55" fill="#304496"/>
<circle cx="125.4" cy="362.3" r="1.55" fill="#567fbe"/>
<circle cx="103.5" cy="364.9" r="1.55" fill="#304496"/>
<circle cx="103.2" cy="366.5" r="1.55" fill="#3d5fad"/>
<circle cx="107.1" cy="368.1" r="1.55" fill="#232a80"/>
<circle cx="120.2" cy="367.0" r="1.55" fill="#304496"/>
<circle cx="124.4" cy="368.6" r="1.55" fill="#567fbe"/>
<circle cx="115.2" cy="369.1" r="1.55" fill="#232a80"/>
<circle cx="133.6" cy="367.5" r="1.55" fill="#232a80"/>
<circle cx="136.6" cy="367.0" r="1.55" fill="#3d5fad"/>
<circle cx="135.5" cy="369.7" r="1.55" fill="#304496"/>
<circle cx="139.2" cy="370.7" r="1.55" fill="#304496"/>
<circle cx="144.5" cy="367.0" r="1.55" fill="#3d5fad"/>
<circle cx="109.0" cy="372.8" r="1.55" fill="#3d5fad"/>
<circle cx="109.9" cy="372.8" r="1.55" fill="#304496"/>
<circle cx="114.3" cy="373.2" r="1.55" fill="#232a80"/>
<circle cx="120.2" cy="374.2" r="1.55" fill="#3d5fad"/>
<circle cx="128.3" cy="372.5" r="1.55" fill="#304496"/>
<circle cx="130.2" cy="373.6" r="1.55" fill="#304496"/>
<circle cx="129.4" cy="374.9" r="1.55" fill="#304496"/>
<circle cx="141.3" cy="373.6" r="1.55" fill="#304496"/>
<circle cx="139.7" cy="376.0" r="1.55" fill="#3d5fad"/>
<circle cx="138.9" cy="377.8" r="1.55" fill="#304496"/>
<circle cx="144.8" cy="373.9" r="1.55" fill="#3d5fad"/>
<circle cx="123.3" cy="379.4" r="1.55" fill="#304496"/>
<circle cx="130.0" cy="380.6" r="1.55" fill="#304496"/>
<circle cx="132.9" cy="382.9" r="1.55" fill="#232a80"/>
<circle cx="135.3" cy="385.7" r="1.55" fill="#6f9fcf"/>
<circle cx="127.6" cy="385.2" r="1.55" fill="#232a80"/>
<circle cx="115.4" cy="385.0" r="1.55" fill="#304496"/>
<circle cx="149.3" cy="359.6" r="1.55" fill="#232a80"/>
<circle cx="150.6" cy="363.8" r="1.55" fill="#304496"/>
<circle cx="145.4" cy="366.8" r="1.55" fill="#3d5fad"/>
<circle cx="149.5" cy="370.7" r="1.55" fill="#232a80"/>
<circle cx="145.6" cy="374.1" r="1.55" fill="#304496"/>
<circle cx="154.5" cy="371.8" r="1.55" fill="#304496"/>
<circle cx="157.5" cy="373.2" r="1.55" fill="#567fbe"/>
<circle cx="148.4" cy="378.5" r="1.55" fill="#232a80"/>
<circle cx="325.3" cy="248.9" r="1.55" fill="#232a80"/>
<circle cx="334.8" cy="247.5" r="1.55" fill="#6f9fcf"/>
<circle cx="335.0" cy="249.7" r="1.55" fill="#232a80"/>
<circle cx="337.7" cy="249.3" r="1.55" fill="#232a80"/>
<circle cx="320.8" cy="251.8" r="1.55" fill="#232a80"/>
<circle cx="318.4" cy="256.0" r="1.55" fill="#232a80"/>
<circle cx="319.2" cy="257.6" r="1.55" fill="#232a80"/>
<circle cx="320.0" cy="259.2" r="1.55" fill="#232a80"/>
<circle cx="331.7" cy="253.9" r="1.55" fill="#232a80"/>
<circle cx="331.3" cy="256.0" r="1.55" fill="#3d5fad"/>
<circle cx="332.4" cy="257.8" r="1.55" fill="#567fbe"/>
<circle cx="333.8" cy="259.2" r="1.55" fill="#567fbe"/>
<circle cx="326.4" cy="258.6" r="1.55" fill="#232a80"/>
<circle cx="328.7" cy="258.1" r="1.55" fill="#232a80"/>
<circle cx="326.6" cy="261.6" r="1.55" fill="#232a80"/>
<circle cx="328.7" cy="264.5" r="1.55" fill="#567fbe"/>
<circle cx="346.7" cy="289.0" r="1.55" fill="#a9d2e6"/>
<rect x="396.7" y="249.0" width="2.8" height="2.8" fill="#ea7040"/>
<rect x="391.8" y="253.5" width="2.8" height="2.8" fill="#ea7040"/>
<rect x="393.6" y="254.3" width="2.8" height="2.8" fill="#da4c35"/>
<rect x="395.2" y="253.9" width="2.8" height="2.8" fill="#f08e4d"/>
<rect x="397.1" y="254.9" width="2.8" height="2.8" fill="#c9292a"/>
<rect x="398.9" y="255.3" width="2.8" height="2.8" fill="#c9292a"/>
<rect x="402.6" y="258.3" width="2.8" height="2.8" fill="#da4c35"/>
<rect x="402.4" y="263.1" width="2.8" height="2.8" fill="#b21a27"/>
<circle cx="381.2" cy="268.5" r="1.55" fill="#fadb85"/>
<circle cx="376.7" cy="271.0" r="1.55" fill="#fdf7bd"/>
<circle cx="384.9" cy="273.3" r="1.55" fill="#f08e4d"/>
<rect x="376.6" y="274.4" width="2.8" height="2.8" fill="#f08e4d"/>
<rect x="380.3" y="278.6" width="2.8" height="2.8" fill="#c9292a"/>
<rect x="383.5" y="283.2" width="2.8" height="2.8" fill="#c9292a"/>
<rect x="391.5" y="274.7" width="2.8" height="2.8" fill="#c9292a"/>
<rect x="398.9" y="267.3" width="2.8" height="2.8" fill="#c9292a"/>
<rect x="396.2" y="270.7" width="2.8" height="2.8" fill="#c9292a"/>
<rect x="400.5" y="273.1" width="2.8" height="2.8" fill="#c9292a"/>
<rect x="402.6" y="273.6" width="2.8" height="2.8" fill="#f08e4d"/>
<rect x="396.2" y="277.9" width="2.8" height="2.8" fill="#f8c370"/>
<rect x="402.0" y="277.9" width="2.8" height="2.8" fill="#c9292a"/>
<rect x="397.3" y="283.2" width="2.8" height="2.8" fill="#f08e4d"/>
<rect x="399.4" y="283.5" width="2.8" height="2.8" fill="#f08e4d"/>
<rect x="406.1" y="270.8" width="2.8" height="2.8" fill="#c9292a"/>
<rect x="404.9" y="281.1" width="2.8" height="2.8" fill="#f08e4d"/>
<rect x="406.1" y="285.5" width="2.8" height="2.8" fill="#ea7040"/>
<circle cx="336.9" cy="293.1" r="1.55" fill="#a9d2e6"/>
<circle cx="351.4" cy="294.4" r="1.55" fill="#f0f4d8"/>
<circle cx="356.6" cy="293.3" r="1.55" fill="#232a80"/>
<circle cx="323.4" cy="298.3" r="1.55" fill="#232a80"/>
<circle cx="342.7" cy="301.8" r="1.55" fill="#232a80"/>
<circle cx="346.1" cy="301.2" r="1.55" fill="#f8c370"/>
<circle cx="319.5" cy="305.7" r="1.55" fill="#fadb85"/>
<circle cx="332.1" cy="305.5" r="1.55" fill="#a9d2e6"/>
<circle cx="335.0" cy="309.0" r="1.55" fill="#c6e1ec"/>
<circle cx="311.8" cy="313.9" r="1.55" fill="#f08e4d"/>
<circle cx="322.6" cy="315.8" r="1.55" fill="#f0f4d8"/>
<circle cx="326.6" cy="320.1" r="1.55" fill="#fadb85"/>
<circle cx="334.8" cy="321.0" r="1.55" fill="#8cb8da"/>
<circle cx="331.7" cy="323.3" r="1.55" fill="#fce9a1"/>
<circle cx="340.9" cy="322.9" r="1.55" fill="#6f9fcf"/>
<circle cx="343.0" cy="322.9" r="1.55" fill="#e2f0f2"/>
<circle cx="350.9" cy="325.9" r="1.55" fill="#fadb85"/>
<circle cx="307.0" cy="327.5" r="1.55" fill="#f8c370"/>
<circle cx="311.2" cy="326.4" r="1.55" fill="#c6e1ec"/>
<circle cx="316.5" cy="326.6" r="1.55" fill="#f8c370"/>
<circle cx="310.5" cy="330.1" r="1.55" fill="#f0f4d8"/>
<circle cx="320.4" cy="330.0" r="1.55" fill="#fdf7bd"/>
<circle cx="315.5" cy="333.0" r="1.55" fill="#e2f0f2"/>
<circle cx="306.7" cy="335.8" r="1.55" fill="#f8c370"/>
<circle cx="324.5" cy="335.3" r="1.55" fill="#da4c35"/>
<circle cx="325.7" cy="334.3" r="1.55" fill="#da4c35"/>
<circle cx="334.5" cy="331.9" r="1.55" fill="#fadb85"/>
<circle cx="336.9" cy="336.5" r="1.55" fill="#fce9a1"/>
<circle cx="343.3" cy="333.5" r="1.55" fill="#fce9a1"/>
<circle cx="321.8" cy="338.5" r="1.55" fill="#da4c35"/>
<circle cx="331.3" cy="341.1" r="1.55" fill="#fce9a1"/>
<circle cx="346.5" cy="338.5" r="1.55" fill="#f0f4d8"/>
<circle cx="356.1" cy="299.1" r="1.55" fill="#232a80"/>
<circle cx="359.0" cy="299.7" r="1.55" fill="#304496"/>
<circle cx="360.4" cy="299.3" r="1.55" fill="#304496"/>
<circle cx="360.0" cy="303.1" r="1.55" fill="#304496"/>
<circle cx="358.5" cy="302.3" r="1.55" fill="#304496"/>
<circle cx="357.9" cy="311.5" r="1.55" fill="#a9d2e6"/>
<circle cx="377.3" cy="299.4" r="1.55" fill="#f5ab5a"/>
<circle cx="369.6" cy="308.9" r="1.55" fill="#f8c370"/>
<circle cx="393.9" cy="295.6" r="1.55" fill="#fce9a1"/>
<circle cx="389.7" cy="301.6" r="1.55" fill="#f5ab5a"/>
<circle cx="394.4" cy="303.6" r="1.55" fill="#da4c35"/>
<circle cx="402.9" cy="302.8" r="1.55" fill="#f5ab5a"/>
<circle cx="398.7" cy="309.4" r="1.55" fill="#f6b563"/>
<circle cx="365.7" cy="324.5" r="1.55" fill="#fadb85"/>
<circle cx="356.3" cy="328.4" r="1.55" fill="#f6b563"/>
<circle cx="358.5" cy="332.5" r="1.55" fill="#f6b563"/>
<rect x="377.4" y="327.9" width="2.8" height="2.8" fill="#fce9a1"/>
<circle cx="377.3" cy="332.8" r="1.55" fill="#567fbe"/>
<circle cx="391.5" cy="329.8" r="1.55" fill="#f08e4d"/>
<circle cx="396.2" cy="329.3" r="1.55" fill="#fce9a1"/>
<circle cx="394.4" cy="338.6" r="1.55" fill="#c6e1ec"/>
<circle cx="355.8" cy="341.5" r="1.55" fill="#f0f4d8"/>
<circle cx="357.4" cy="343.0" r="1.55" fill="#fce9a1"/>
<circle cx="360.0" cy="339.6" r="1.55" fill="#a9d2e6"/>
<circle cx="361.9" cy="339.3" r="1.55" fill="#f8c370"/>
<circle cx="366.9" cy="340.9" r="1.55" fill="#f0f4d8"/>
<circle cx="406.9" cy="308.3" r="1.55" fill="#f8c370"/>
<rect x="420.3" y="302.6" width="2.8" height="2.8" fill="#ea7040"/>
<rect x="413.8" y="306.9" width="2.8" height="2.8" fill="#da4c35"/>
<rect x="415.3" y="311.3" width="2.8" height="2.8" fill="#fadb85"/>
<rect x="414.2" y="312.7" width="2.8" height="2.8" fill="#f8c370"/>
<rect x="421.7" y="312.4" width="2.8" height="2.8" fill="#f08e4d"/>
<rect x="419.9" y="315.7" width="2.8" height="2.8" fill="#da4c35"/>
<rect x="412.2" y="316.1" width="2.8" height="2.8" fill="#b21a27"/>
<rect x="430.3" y="316.5" width="2.8" height="2.8" fill="#b21a27"/>
<rect x="425.1" y="319.1" width="2.8" height="2.8" fill="#b21a27"/>
<rect x="428.8" y="320.3" width="2.8" height="2.8" fill="#c9292a"/>
<rect x="428.8" y="323.7" width="2.8" height="2.8" fill="#da4c35"/>
<circle cx="436.1" cy="311.3" r="1.55" fill="#ea7040"/>
<circle cx="450.5" cy="313.2" r="1.55" fill="#da4c35"/>
<circle cx="452.5" cy="311.7" r="1.55" fill="#c9292a"/>
<rect x="441.3" y="317.6" width="2.8" height="2.8" fill="#da4c35"/>
<circle cx="442.7" cy="321.3" r="1.55" fill="#b21a27"/>
<circle cx="449.6" cy="321.7" r="1.55" fill="#567fbe"/>
<circle cx="415.2" cy="324.2" r="1.55" fill="#b21a27"/>
<rect x="410.1" y="323.7" width="2.8" height="2.8" fill="#da4c35"/>
<rect x="411.3" y="326.3" width="2.8" height="2.8" fill="#f08e4d"/>
<circle cx="414.4" cy="328.8" r="1.55" fill="#f8c370"/>
<rect x="415.9" y="329.1" width="2.8" height="2.8" fill="#da4c35"/>
<rect x="420.5" y="326.5" width="2.8" height="2.8" fill="#da4c35"/>
<circle cx="436.9" cy="327.9" r="1.55" fill="#f5ab5a"/>
<circle cx="409.5" cy="336.0" r="1.55" fill="#fce9a1"/>
<circle cx="410.4" cy="338.3" r="1.55" fill="#f6b563"/>
<rect x="415.3" y="335.5" width="2.8" height="2.8" fill="#f08e4d"/>
<rect x="426.9" y="332.6" width="2.8" height="2.8" fill="#f08e4d"/>
<rect x="428.4" y="334.3" width="2.8" height="2.8" fill="#da4c35"/>
<rect x="428.8" y="337.8" width="2.8" height="2.8" fill="#da4c35"/>
<circle cx="328.9" cy="347.2" r="1.55" fill="#a9d2e6"/>
<circle cx="330.3" cy="345.9" r="1.55" fill="#f08e4d"/>
<circle cx="334.0" cy="347.9" r="1.55" fill="#304496"/>
<circle cx="341.4" cy="348.8" r="1.55" fill="#c6e1ec"/>
<circle cx="343.7" cy="345.1" r="1.55" fill="#e2f0f2"/>
<circle cx="346.9" cy="344.4" r="1.55" fill="#f0f4d8"/>
<rect x="349.5" y="349.3" width="2.8" height="2.8" fill="#fadb85"/>
<circle cx="342.7" cy="354.1" r="1.55" fill="#fadb85"/>
<circle cx="320.0" cy="353.1" r="1.55" fill="#6f9fcf"/>
<circle cx="318.4" cy="355.3" r="1.55" fill="#fdf7bd"/>
<circle cx="332.4" cy="361.8" r="1.55" fill="#fadb85"/>
<circle cx="342.4" cy="383.5" r="1.55" fill="#3d5fad"/>
<circle cx="343.3" cy="385.1" r="1.55" fill="#567fbe"/>
<circle cx="343.0" cy="386.2" r="1.55" fill="#3d5fad"/>
<circle cx="344.6" cy="383.0" r="1.55" fill="#304496"/>
<circle cx="346.1" cy="381.9" r="1.55" fill="#304496"/>
<circle cx="347.5" cy="381.1" r="1.55" fill="#a9d2e6"/>
<circle cx="350.7" cy="381.2" r="1.55" fill="#232a80"/>
<circle cx="345.6" cy="383.5" r="1.55" fill="#232a80"/>
<circle cx="375.4" cy="344.7" r="1.55" fill="#304496"/>
<circle cx="381.7" cy="345.1" r="1.55" fill="#e2f0f2"/>
<circle cx="397.4" cy="345.9" r="1.55" fill="#567fbe"/>
<circle cx="390.0" cy="347.2" r="1.55" fill="#232a80"/>
<circle cx="361.4" cy="348.3" r="1.55" fill="#232a80"/>
<circle cx="362.2" cy="353.4" r="1.55" fill="#6f9fcf"/>
<circle cx="395.3" cy="350.7" r="1.55" fill="#232a80"/>
<circle cx="389.4" cy="353.7" r="1.55" fill="#304496"/>
<circle cx="386.5" cy="356.7" r="1.55" fill="#567fbe"/>
<circle cx="380.7" cy="358.9" r="1.55" fill="#8cb8da"/>
<circle cx="382.8" cy="361.1" r="1.55" fill="#304496"/>
<circle cx="381.2" cy="360.6" r="1.55" fill="#e2f0f2"/>
<circle cx="379.1" cy="363.1" r="1.55" fill="#304496"/>
<circle cx="380.7" cy="364.3" r="1.55" fill="#e2f0f2"/>
<circle cx="386.2" cy="364.5" r="1.55" fill="#232a80"/>
<circle cx="379.1" cy="368.0" r="1.55" fill="#304496"/>
<circle cx="359.3" cy="378.5" r="1.55" fill="#fce9a1"/>
<circle cx="410.2" cy="342.5" r="1.55" fill="#fce9a1"/>
<circle cx="425.6" cy="342.5" r="1.55" fill="#ea7040"/>
<circle cx="420.2" cy="357.1" r="1.55" fill="#b21a27"/>
<text x="57.9" y="367.30" font-size="5.4" text-anchor="start" font-weight="normal" fill="#333" textLength="16.3" lengthAdjust="spacingAndGlyphs" stroke="#333" stroke-width="0.18">inv(16)</text>
<text x="138.8" y="332.70" font-size="5.4" text-anchor="start" font-weight="normal" fill="#333" textLength="18.7" lengthAdjust="spacingAndGlyphs" stroke="#333" stroke-width="0.18">CEBPA</text>
<text x="157.9" y="330.70" font-size="3.0" text-anchor="start" font-weight="normal" fill="#333" stroke="#333" stroke-width="0.18">mut</text>
<text x="143.6" y="387.50" font-size="5.4" text-anchor="start" font-weight="normal" fill="#333" textLength="16.2" lengthAdjust="spacingAndGlyphs" stroke="#333" stroke-width="0.18">t(8;21)</text>
<text x="337.2" y="258.50" font-size="5.6" text-anchor="start" font-weight="normal" fill="#333" textLength="26.9" lengthAdjust="spacingAndGlyphs" stroke="#333" stroke-width="0.18">PML-RARA</text>
<text x="358.8" y="294.80" font-size="5.4" text-anchor="start" font-weight="normal" fill="#333" textLength="18.7" lengthAdjust="spacingAndGlyphs" stroke="#333" stroke-width="0.18">CEBPA</text>
<text x="377.9" y="292.80" font-size="3.0" text-anchor="start" font-weight="normal" fill="#333" stroke="#333" stroke-width="0.18">mut</text>
<text x="389.4" y="364.50" font-size="5.4" text-anchor="start" font-weight="normal" fill="#333" textLength="16.3" lengthAdjust="spacingAndGlyphs" stroke="#333" stroke-width="0.18">inv(16)</text>
<text x="350.0" y="387.70" font-size="5.4" text-anchor="start" font-weight="normal" fill="#333" textLength="16.0" lengthAdjust="spacingAndGlyphs" stroke="#333" stroke-width="0.18">t(8;21)</text>
<rect x="0.6" y="0.6" width="518.6" height="603.6" fill="none" stroke="#000" stroke-width="1.4"/>
</svg>
</body></html>
